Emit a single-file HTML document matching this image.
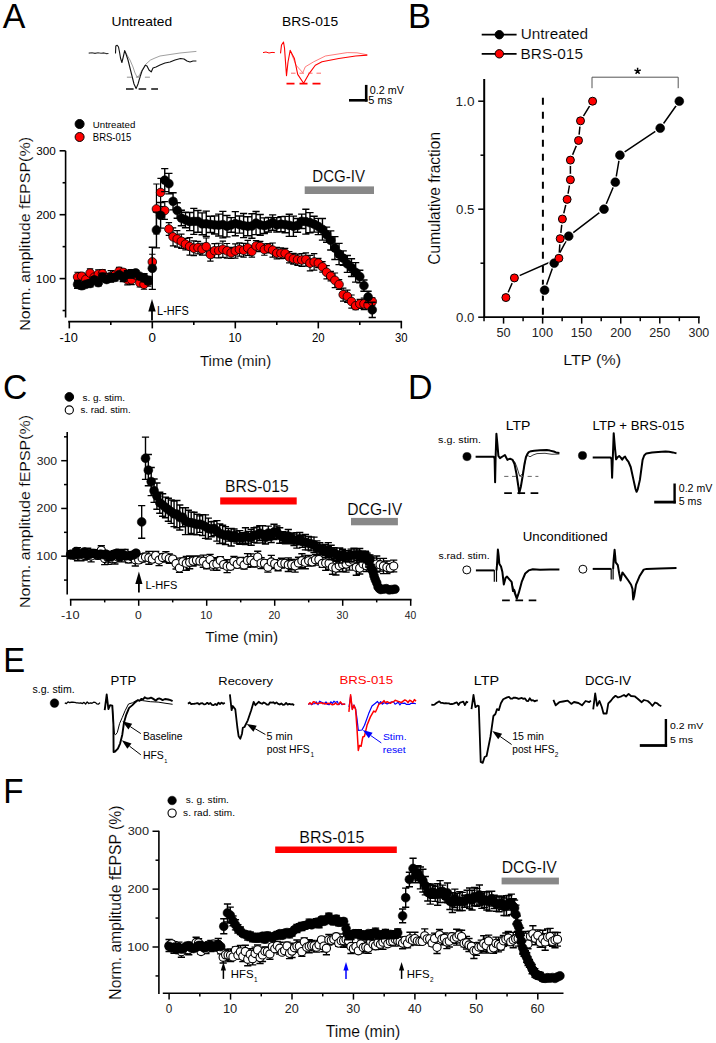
<!DOCTYPE html>
<html><head><meta charset="utf-8"><style>
html,body{margin:0;padding:0;background:#fff;}
svg{display:block;}
text{font-family:"Liberation Sans", sans-serif;}
.th{stroke:#fff; stroke-width:0.12px; paint-order:fill;}
</style></head><body>
<svg width="716" height="1043" viewBox="0 0 716 1043" font-family='"Liberation Sans", sans-serif'>
<rect width="716" height="1043" fill="#fff"/>
<text x="2.73" y="27.80" font-size="35.32" fill="#000" textLength="22.64" lengthAdjust="spacingAndGlyphs">A</text>
<text x="111.44" y="25.70" font-size="13.24" fill="#000" textLength="60.66" lengthAdjust="spacingAndGlyphs">Untreated</text>
<text x="282.06" y="25.70" font-size="13.18" fill="#000" textLength="56.21" lengthAdjust="spacingAndGlyphs">BRS-015</text>
<polyline points="88.70,53.10 92.00,52.80 95.00,53.40 98.00,52.70 101.00,53.20 104.00,52.90 106.00,53.60 108.50,53.50" fill="none" stroke="#333" stroke-width="1.1" stroke-linejoin="round"/>
<polyline points="124.70,50.60 127.00,55.00 130.00,60.00 133.00,67.00 135.00,73.00 137.00,76.90 139.00,76.00 142.00,70.00 146.00,64.00 150.40,60.10 155.00,58.00 160.00,56.00 170.00,54.50 180.00,53.00 190.00,52.00 196.40,51.40" fill="none" stroke="#888" stroke-width="0.8" stroke-linejoin="round"/>
<polyline points="115.50,53.50 115.80,46.00 117.20,45.20 118.50,47.00 119.50,52.00 120.50,58.00 121.90,62.50 123.00,58.00 124.70,50.60 126.00,54.00 128.00,60.00 130.00,68.00 132.00,76.00 134.00,84.00 136.10,88.60 138.00,84.00 140.00,77.00 142.00,71.00 145.30,65.20 147.00,66.00 149.00,70.00 151.20,71.90 153.00,68.00 156.00,67.00 160.00,65.00 165.00,63.00 170.00,62.00 175.00,60.00 180.50,58.50 184.00,59.00 187.00,61.00 190.00,62.00 193.00,61.00 196.40,61.00" fill="none" stroke="#111" stroke-width="1.1" stroke-linejoin="round"/>
<line x1="126.90" y1="77.20" x2="152.90" y2="77.20" stroke="#777" stroke-width="0.8" stroke-linecap="butt" stroke-dasharray="5,4"/>
<line x1="126.00" y1="89.00" x2="158.00" y2="89.00" stroke="#111" stroke-width="1.6" stroke-linecap="butt" stroke-dasharray="7.6,5"/>
<polyline points="263.00,52.60 266.00,52.00 269.00,53.00 272.00,52.40 274.80,52.60" fill="none" stroke="#f00" stroke-width="1.0" stroke-linejoin="round"/>
<polyline points="290.20,50.40 296.00,65.20 302.80,72.70 305.30,66.80 313.70,61.80 325.40,56.00 347.20,52.60 357.00,52.80 367.30,54.80" fill="none" stroke="#f44" stroke-width="0.7" stroke-linejoin="round"/>
<polyline points="280.50,53.40 281.50,45.00 283.50,42.00 284.50,48.00 286.50,75.60 288.00,62.00 290.20,50.40 294.40,58.50 297.70,74.40 303.60,83.30 308.60,74.40 315.30,65.20 322.00,61.80 338.80,58.50 355.60,56.00 367.30,55.10" fill="none" stroke="#f00" stroke-width="1.1" stroke-linejoin="round"/>
<line x1="291.00" y1="73.20" x2="323.70" y2="73.20" stroke="#f44" stroke-width="0.8" stroke-linecap="butt" stroke-dasharray="4.5,4"/>
<line x1="286.50" y1="83.60" x2="320.70" y2="83.60" stroke="#f00" stroke-width="1.6" stroke-linecap="butt" stroke-dasharray="8,5"/>
<line x1="366.20" y1="84.90" x2="366.20" y2="101.60" stroke="#000" stroke-width="2.6" stroke-linecap="butt"/>
<line x1="349.00" y1="100.30" x2="367.50" y2="100.30" stroke="#000" stroke-width="2.6" stroke-linecap="butt"/>
<text x="369.88" y="93.50" font-size="10.17" fill="#000" textLength="34.17" lengthAdjust="spacingAndGlyphs">0.2 mV</text>
<text x="368.36" y="103.50" font-size="10.61" fill="#000" textLength="23.84" lengthAdjust="spacingAndGlyphs">5 ms</text>
<circle cx="79.60" cy="124.00" r="4.5" fill="#000" stroke="#000" stroke-width="1"/>
<circle cx="79.60" cy="137.00" r="4.5" fill="#f00" stroke="#000" stroke-width="1"/>
<text x="92.85" y="127.50" font-size="9.66" fill="#000">Untreated</text>
<text x="92.82" y="140.80" font-size="10.03" fill="#000" textLength="38.58" lengthAdjust="spacingAndGlyphs">BRS-015</text>
<line x1="65.60" y1="150.80" x2="65.60" y2="317.50" stroke="#000" stroke-width="1.6" stroke-linecap="butt"/>
<line x1="59.60" y1="278.60" x2="65.60" y2="278.60" stroke="#000" stroke-width="1.6" stroke-linecap="butt"/>
<line x1="59.60" y1="214.70" x2="65.60" y2="214.70" stroke="#000" stroke-width="1.6" stroke-linecap="butt"/>
<line x1="59.60" y1="150.80" x2="65.60" y2="150.80" stroke="#000" stroke-width="1.6" stroke-linecap="butt"/>
<line x1="62.60" y1="310.55" x2="65.60" y2="310.55" stroke="#000" stroke-width="1.6" stroke-linecap="butt"/>
<line x1="62.60" y1="246.65" x2="65.60" y2="246.65" stroke="#000" stroke-width="1.6" stroke-linecap="butt"/>
<line x1="62.60" y1="182.75" x2="65.60" y2="182.75" stroke="#000" stroke-width="1.6" stroke-linecap="butt"/>
<line x1="68.20" y1="321.60" x2="402.10" y2="321.60" stroke="#000" stroke-width="1.6" stroke-linecap="butt"/>
<line x1="69.30" y1="321.60" x2="69.30" y2="328.40" stroke="#000" stroke-width="1.6" stroke-linecap="butt"/>
<line x1="152.30" y1="321.60" x2="152.30" y2="328.40" stroke="#000" stroke-width="1.6" stroke-linecap="butt"/>
<line x1="235.30" y1="321.60" x2="235.30" y2="328.40" stroke="#000" stroke-width="1.6" stroke-linecap="butt"/>
<line x1="318.30" y1="321.60" x2="318.30" y2="328.40" stroke="#000" stroke-width="1.6" stroke-linecap="butt"/>
<line x1="401.30" y1="321.60" x2="401.30" y2="328.40" stroke="#000" stroke-width="1.6" stroke-linecap="butt"/>
<line x1="110.80" y1="321.60" x2="110.80" y2="325.00" stroke="#000" stroke-width="1.6" stroke-linecap="butt"/>
<line x1="193.80" y1="321.60" x2="193.80" y2="325.00" stroke="#000" stroke-width="1.6" stroke-linecap="butt"/>
<line x1="276.80" y1="321.60" x2="276.80" y2="325.00" stroke="#000" stroke-width="1.6" stroke-linecap="butt"/>
<line x1="359.80" y1="321.60" x2="359.80" y2="325.00" stroke="#000" stroke-width="1.6" stroke-linecap="butt"/>
<text x="36.36" y="154.80" font-size="11.46" fill="#000" textLength="19.51" lengthAdjust="spacingAndGlyphs">300</text>
<text x="36.21" y="218.70" font-size="11.46" fill="#000" textLength="19.65" lengthAdjust="spacingAndGlyphs">200</text>
<text x="35.89" y="282.60" font-size="11.46" fill="#000" textLength="19.98" lengthAdjust="spacingAndGlyphs">100</text>
<text x="59.44" y="341.80" font-size="12.75" fill="#000">-10</text>
<text x="148.58" y="341.80" font-size="12.46" fill="#000" textLength="7.45" lengthAdjust="spacingAndGlyphs">0</text>
<text x="228.56" y="341.80" font-size="12.46" fill="#000" textLength="13.05" lengthAdjust="spacingAndGlyphs">10</text>
<text x="311.88" y="341.80" font-size="12.46" fill="#000" textLength="12.72" lengthAdjust="spacingAndGlyphs">20</text>
<text x="395.02" y="341.80" font-size="12.46" fill="#000" textLength="12.57" lengthAdjust="spacingAndGlyphs">30</text>
<text x="199.97" y="366.10" font-size="15.03" fill="#000" class="th">Time (min)</text>
<text x="0" y="0" font-size="14.48" fill="#000" class="th" textLength="193.80" lengthAdjust="spacingAndGlyphs" transform="translate(30.20,330.81) rotate(-90)">Norm. amplitude fEPSP(%)</text>
<rect x="304.70" y="186.40" width="69.30" height="7.60" fill="#888"/>
<text x="312.37" y="181.90" font-size="16.05" fill="#000" class="th" textLength="52.71" lengthAdjust="spacingAndGlyphs">DCG-IV</text>
<path d="M148.30,311.40 L152.00,299.10 L155.70,311.40 Z" fill="#000"/>
<line x1="152.00" y1="310.40" x2="152.00" y2="320.50" stroke="#000" stroke-width="1.8" stroke-linecap="butt"/>
<text x="157.10" y="314.70" font-size="12.03" fill="#000" textLength="31.60" lengthAdjust="spacingAndGlyphs">L-HFS</text>
<path d="M77.60,272.27V281.66M74.40,272.27H80.80M74.40,281.66H80.80M81.75,273.00V279.40M78.55,273.00H84.95M78.55,279.40H84.95M85.90,274.42V284.24M82.70,274.42H89.10M82.70,284.24H89.10M90.05,268.93V277.28M86.85,268.93H93.25M86.85,277.28H93.25M94.20,272.69V281.62M91.00,272.69H97.40M91.00,281.62H97.40M98.35,269.95V278.44M95.15,269.95H101.55M95.15,278.44H101.55M102.50,269.57V277.72M99.30,269.57H105.70M99.30,277.72H105.70M106.65,273.42V282.64M103.45,273.42H109.85M103.45,282.64H109.85M110.80,270.71V282.20M107.60,270.71H114.00M107.60,282.20H114.00M114.95,271.51V278.37M111.75,271.51H118.15M111.75,278.37H118.15M119.10,267.36V275.30M115.90,267.36H122.30M115.90,275.30H122.30M123.25,269.14V275.63M120.05,269.14H126.45M120.05,275.63H126.45M127.40,274.70V284.92M124.20,274.70H130.60M124.20,284.92H130.60M131.55,274.85V284.64M128.35,274.85H134.75M128.35,284.64H134.75M135.70,271.48V278.89M132.50,271.48H138.90M132.50,278.89H138.90M139.85,278.50V287.00M136.65,278.50H143.05M136.65,287.00H143.05M144.00,279.52V289.24M140.80,279.52H147.20M140.80,289.24H147.20M148.15,276.29V286.10M144.95,276.29H151.35M144.95,286.10H151.35M152.30,254.23V269.57M149.10,254.23H155.50M149.10,269.57H155.50M156.45,184.01V233.86M153.25,184.01H159.65M153.25,233.86H159.65M160.60,178.40V206.52M157.40,178.40H163.80M157.40,206.52H163.80M164.75,201.53V219.42M161.55,201.53H167.95M161.55,219.42H167.95M168.90,222.60V235.38M165.70,222.60H172.10M165.70,235.38H172.10M173.05,227.78V245.89M169.85,227.78H176.25M169.85,245.89H176.25M177.20,230.65V247.22M174.00,230.65H180.40M174.00,247.22H180.40M181.35,234.03V248.42M178.15,234.03H184.55M178.15,248.42H184.55M185.50,238.30V249.94M182.30,238.30H188.70M182.30,249.94H188.70M189.65,237.69V255.14M186.45,237.69H192.85M186.45,255.14H192.85M193.80,240.87V255.55M190.60,240.87H197.00M190.60,255.55H197.00M197.95,241.31V253.90M194.75,241.31H201.15M194.75,253.90H201.15M202.10,243.27V255.15M198.90,243.27H205.30M198.90,255.15H205.30M206.25,238.02V255.25M203.05,238.02H209.45M203.05,255.25H209.45M210.40,248.02V261.11M207.20,248.02H213.60M207.20,261.11H213.60M214.55,243.70V257.76M211.35,243.70H217.75M211.35,257.76H217.75M218.70,243.27V257.84M215.50,243.27H221.90M215.50,257.84H221.90M222.85,241.05V257.37M219.65,241.05H226.05M219.65,257.37H226.05M227.00,243.51V258.13M223.80,243.51H230.20M223.80,258.13H230.20M231.15,247.41V258.34M227.95,247.41H234.35M227.95,258.34H234.35M235.30,243.80V258.07M232.10,243.80H238.50M232.10,258.07H238.50M239.45,242.77V256.18M236.25,242.77H242.65M236.25,256.18H242.65M243.60,243.33V257.17M240.40,243.33H246.80M240.40,257.17H246.80M247.75,240.41V255.44M244.55,240.41H250.95M244.55,255.44H250.95M251.90,245.88V257.22M248.70,245.88H255.10M248.70,257.22H255.10M256.05,240.53V251.36M252.85,240.53H259.25M252.85,251.36H259.25M260.20,241.41V251.61M257.00,241.41H263.40M257.00,251.61H263.40M264.35,243.80V255.27M261.15,243.80H267.55M261.15,255.27H267.55M268.50,243.50V252.84M265.30,243.50H271.70M265.30,252.84H271.70M272.65,242.98V257.20M269.45,242.98H275.85M269.45,257.20H275.85M276.80,247.32V258.86M273.60,247.32H280.00M273.60,258.86H280.00M280.95,247.89V258.55M277.75,247.89H284.15M277.75,258.55H284.15M285.10,248.41V258.31M281.90,248.41H288.30M281.90,258.31H288.30M289.25,251.49V262.84M286.05,251.49H292.45M286.05,262.84H292.45M293.40,253.36V264.14M290.20,253.36H296.60M290.20,264.14H296.60M297.55,254.11V265.41M294.35,254.11H300.75M294.35,265.41H300.75M301.70,253.66V266.37M298.50,253.66H304.90M298.50,266.37H304.90M305.85,252.90V266.17M302.65,252.90H309.05M302.65,266.17H309.05M310.00,255.42V270.93M306.80,255.42H313.20M306.80,270.93H313.20M314.15,253.64V270.22M310.95,253.64H317.35M310.95,270.22H317.35M318.30,258.32V267.64M315.10,258.32H321.50M315.10,267.64H321.50M322.45,261.60V272.15M319.25,261.60H325.65M319.25,272.15H325.65M326.60,265.53V278.95M323.40,265.53H329.80M323.40,278.95H329.80M330.75,271.28V280.96M327.55,271.28H333.95M327.55,280.96H333.95M334.90,273.02V287.59M331.70,273.02H338.10M331.70,287.59H338.10M339.05,279.60V289.33M335.85,279.60H342.25M335.85,289.33H342.25M343.20,288.05V301.22M340.00,288.05H346.40M340.00,301.22H346.40M347.35,290.14V302.46M344.15,290.14H350.55M344.15,302.46H350.55M351.50,294.99V308.06M348.30,294.99H354.70M348.30,308.06H354.70M355.65,301.79V309.60M352.45,301.79H358.85M352.45,309.60H358.85M359.80,299.37V308.29M356.60,299.37H363.00M356.60,308.29H363.00M363.95,297.98V309.70M360.75,297.98H367.15M360.75,309.70H367.15M368.10,301.14V308.84M364.90,301.14H371.30M364.90,308.84H371.30M372.25,297.86V305.21M369.05,297.86H375.45M369.05,305.21H375.45" stroke="#000" stroke-width="1.2" fill="none"/>
<circle cx="77.60" cy="276.97" r="4.3" fill="#f00" stroke="#000" stroke-width="0.8"/>
<circle cx="81.75" cy="276.20" r="4.3" fill="#f00" stroke="#000" stroke-width="0.8"/>
<circle cx="85.90" cy="279.33" r="4.3" fill="#f00" stroke="#000" stroke-width="0.8"/>
<circle cx="90.05" cy="273.10" r="4.3" fill="#f00" stroke="#000" stroke-width="0.8"/>
<circle cx="94.20" cy="277.15" r="4.3" fill="#f00" stroke="#000" stroke-width="0.8"/>
<circle cx="98.35" cy="274.19" r="4.3" fill="#f00" stroke="#000" stroke-width="0.8"/>
<circle cx="102.50" cy="273.64" r="4.3" fill="#f00" stroke="#000" stroke-width="0.8"/>
<circle cx="106.65" cy="278.03" r="4.3" fill="#f00" stroke="#000" stroke-width="0.8"/>
<circle cx="110.80" cy="276.46" r="4.3" fill="#f00" stroke="#000" stroke-width="0.8"/>
<circle cx="114.95" cy="274.94" r="4.3" fill="#f00" stroke="#000" stroke-width="0.8"/>
<circle cx="119.10" cy="271.33" r="4.3" fill="#f00" stroke="#000" stroke-width="0.8"/>
<circle cx="123.25" cy="272.38" r="4.3" fill="#f00" stroke="#000" stroke-width="0.8"/>
<circle cx="127.40" cy="279.81" r="4.3" fill="#f00" stroke="#000" stroke-width="0.8"/>
<circle cx="131.55" cy="279.75" r="4.3" fill="#f00" stroke="#000" stroke-width="0.8"/>
<circle cx="135.70" cy="275.18" r="4.3" fill="#f00" stroke="#000" stroke-width="0.8"/>
<circle cx="139.85" cy="282.75" r="4.3" fill="#f00" stroke="#000" stroke-width="0.8"/>
<circle cx="144.00" cy="284.38" r="4.3" fill="#f00" stroke="#000" stroke-width="0.8"/>
<circle cx="148.15" cy="281.20" r="4.3" fill="#f00" stroke="#000" stroke-width="0.8"/>
<circle cx="152.30" cy="261.90" r="4.3" fill="#f00" stroke="#000" stroke-width="0.8"/>
<circle cx="156.45" cy="208.93" r="4.3" fill="#f00" stroke="#000" stroke-width="0.8"/>
<circle cx="160.60" cy="192.46" r="4.3" fill="#f00" stroke="#000" stroke-width="0.8"/>
<circle cx="164.75" cy="210.48" r="4.3" fill="#f00" stroke="#000" stroke-width="0.8"/>
<circle cx="168.90" cy="228.99" r="4.3" fill="#f00" stroke="#000" stroke-width="0.8"/>
<circle cx="173.05" cy="236.83" r="4.3" fill="#f00" stroke="#000" stroke-width="0.8"/>
<circle cx="177.20" cy="238.93" r="4.3" fill="#f00" stroke="#000" stroke-width="0.8"/>
<circle cx="181.35" cy="241.23" r="4.3" fill="#f00" stroke="#000" stroke-width="0.8"/>
<circle cx="185.50" cy="244.12" r="4.3" fill="#f00" stroke="#000" stroke-width="0.8"/>
<circle cx="189.65" cy="246.42" r="4.3" fill="#f00" stroke="#000" stroke-width="0.8"/>
<circle cx="193.80" cy="248.21" r="4.3" fill="#f00" stroke="#000" stroke-width="0.8"/>
<circle cx="197.95" cy="247.61" r="4.3" fill="#f00" stroke="#000" stroke-width="0.8"/>
<circle cx="202.10" cy="249.21" r="4.3" fill="#f00" stroke="#000" stroke-width="0.8"/>
<circle cx="206.25" cy="246.64" r="4.3" fill="#f00" stroke="#000" stroke-width="0.8"/>
<circle cx="210.40" cy="254.56" r="4.3" fill="#f00" stroke="#000" stroke-width="0.8"/>
<circle cx="214.55" cy="250.73" r="4.3" fill="#f00" stroke="#000" stroke-width="0.8"/>
<circle cx="218.70" cy="250.55" r="4.3" fill="#f00" stroke="#000" stroke-width="0.8"/>
<circle cx="222.85" cy="249.21" r="4.3" fill="#f00" stroke="#000" stroke-width="0.8"/>
<circle cx="227.00" cy="250.82" r="4.3" fill="#f00" stroke="#000" stroke-width="0.8"/>
<circle cx="231.15" cy="252.87" r="4.3" fill="#f00" stroke="#000" stroke-width="0.8"/>
<circle cx="235.30" cy="250.93" r="4.3" fill="#f00" stroke="#000" stroke-width="0.8"/>
<circle cx="239.45" cy="249.48" r="4.3" fill="#f00" stroke="#000" stroke-width="0.8"/>
<circle cx="243.60" cy="250.25" r="4.3" fill="#f00" stroke="#000" stroke-width="0.8"/>
<circle cx="247.75" cy="247.93" r="4.3" fill="#f00" stroke="#000" stroke-width="0.8"/>
<circle cx="251.90" cy="251.55" r="4.3" fill="#f00" stroke="#000" stroke-width="0.8"/>
<circle cx="256.05" cy="245.95" r="4.3" fill="#f00" stroke="#000" stroke-width="0.8"/>
<circle cx="260.20" cy="246.51" r="4.3" fill="#f00" stroke="#000" stroke-width="0.8"/>
<circle cx="264.35" cy="249.54" r="4.3" fill="#f00" stroke="#000" stroke-width="0.8"/>
<circle cx="268.50" cy="248.17" r="4.3" fill="#f00" stroke="#000" stroke-width="0.8"/>
<circle cx="272.65" cy="250.09" r="4.3" fill="#f00" stroke="#000" stroke-width="0.8"/>
<circle cx="276.80" cy="253.09" r="4.3" fill="#f00" stroke="#000" stroke-width="0.8"/>
<circle cx="280.95" cy="253.22" r="4.3" fill="#f00" stroke="#000" stroke-width="0.8"/>
<circle cx="285.10" cy="253.36" r="4.3" fill="#f00" stroke="#000" stroke-width="0.8"/>
<circle cx="289.25" cy="257.16" r="4.3" fill="#f00" stroke="#000" stroke-width="0.8"/>
<circle cx="293.40" cy="258.75" r="4.3" fill="#f00" stroke="#000" stroke-width="0.8"/>
<circle cx="297.55" cy="259.76" r="4.3" fill="#f00" stroke="#000" stroke-width="0.8"/>
<circle cx="301.70" cy="260.02" r="4.3" fill="#f00" stroke="#000" stroke-width="0.8"/>
<circle cx="305.85" cy="259.54" r="4.3" fill="#f00" stroke="#000" stroke-width="0.8"/>
<circle cx="310.00" cy="263.17" r="4.3" fill="#f00" stroke="#000" stroke-width="0.8"/>
<circle cx="314.15" cy="261.93" r="4.3" fill="#f00" stroke="#000" stroke-width="0.8"/>
<circle cx="318.30" cy="262.98" r="4.3" fill="#f00" stroke="#000" stroke-width="0.8"/>
<circle cx="322.45" cy="266.87" r="4.3" fill="#f00" stroke="#000" stroke-width="0.8"/>
<circle cx="326.60" cy="272.24" r="4.3" fill="#f00" stroke="#000" stroke-width="0.8"/>
<circle cx="330.75" cy="276.12" r="4.3" fill="#f00" stroke="#000" stroke-width="0.8"/>
<circle cx="334.90" cy="280.31" r="4.3" fill="#f00" stroke="#000" stroke-width="0.8"/>
<circle cx="339.05" cy="284.47" r="4.3" fill="#f00" stroke="#000" stroke-width="0.8"/>
<circle cx="343.20" cy="294.64" r="4.3" fill="#f00" stroke="#000" stroke-width="0.8"/>
<circle cx="347.35" cy="296.30" r="4.3" fill="#f00" stroke="#000" stroke-width="0.8"/>
<circle cx="351.50" cy="301.52" r="4.3" fill="#f00" stroke="#000" stroke-width="0.8"/>
<circle cx="355.65" cy="305.69" r="4.3" fill="#f00" stroke="#000" stroke-width="0.8"/>
<circle cx="359.80" cy="303.83" r="4.3" fill="#f00" stroke="#000" stroke-width="0.8"/>
<circle cx="363.95" cy="303.84" r="4.3" fill="#f00" stroke="#000" stroke-width="0.8"/>
<circle cx="368.10" cy="304.99" r="4.3" fill="#f00" stroke="#000" stroke-width="0.8"/>
<circle cx="372.25" cy="301.54" r="4.3" fill="#f00" stroke="#000" stroke-width="0.8"/>
<path d="M77.60,280.43V288.37M74.00,280.43H81.20M74.00,288.37H81.20M81.75,282.36V289.03M78.15,282.36H85.35M78.15,289.03H85.35M85.90,282.08V286.56M82.30,282.08H89.50M82.30,286.56H89.50M90.05,280.06V286.90M86.45,280.06H93.65M86.45,286.90H93.65M94.20,276.91V282.64M90.60,276.91H97.80M90.60,282.64H97.80M98.35,279.41V285.90M94.75,279.41H101.95M94.75,285.90H101.95M102.50,273.30V281.17M98.90,273.30H106.10M98.90,281.17H106.10M106.65,276.55V282.40M103.05,276.55H110.25M103.05,282.40H110.25M110.80,273.62V281.57M107.20,273.62H114.40M107.20,281.57H114.40M114.95,273.99V280.85M111.35,273.99H118.55M111.35,280.85H118.55M119.10,272.35V276.88M115.50,272.35H122.70M115.50,276.88H122.70M123.25,273.42V281.46M119.65,273.42H126.85M119.65,281.46H126.85M127.40,270.65V277.77M123.80,270.65H131.00M123.80,277.77H131.00M131.55,269.72V278.01M127.95,269.72H135.15M127.95,278.01H135.15M135.70,270.35V275.49M132.10,270.35H139.30M132.10,275.49H139.30M139.85,273.79V278.79M136.25,273.79H143.45M136.25,278.79H143.45M144.00,273.71V281.76M140.40,273.71H147.60M140.40,281.76H147.60M148.15,276.83V283.98M144.55,276.83H151.75M144.55,283.98H151.75M152.30,247.24V289.41M148.70,247.24H155.90M148.70,289.41H155.90M156.45,212.11V247.90M152.85,212.11H160.05M152.85,247.90H160.05M160.60,202.55V228.11M157.00,202.55H164.20M157.00,228.11H164.20M164.75,168.65V191.66M161.15,168.65H168.35M161.15,191.66H168.35M168.90,173.41V193.85M165.30,173.41H172.50M165.30,193.85H172.50M173.05,192.76V209.92M169.45,192.76H176.65M169.45,209.92H176.65M177.20,202.74V218.20M173.60,202.74H180.80M173.60,218.20H180.80M181.35,210.30V225.78M177.75,210.30H184.95M177.75,225.78H184.95M185.50,212.23V227.68M181.90,212.23H189.10M181.90,227.68H189.10M189.65,212.43V230.62M186.05,212.43H193.25M186.05,230.62H193.25M193.80,208.41V234.39M190.20,208.41H197.40M190.20,234.39H197.40M197.95,210.56V232.32M194.35,210.56H201.55M194.35,232.32H201.55M202.10,212.88V234.73M198.50,212.88H205.70M198.50,234.73H205.70M206.25,211.08V236.49M202.65,211.08H209.85M202.65,236.49H209.85M210.40,216.31V232.57M206.80,216.31H214.00M206.80,232.57H214.00M214.55,215.87V234.01M210.95,215.87H218.15M210.95,234.01H218.15M218.70,214.12V236.00M215.10,214.12H222.30M215.10,236.00H222.30M222.85,211.34V237.90M219.25,211.34H226.45M219.25,237.90H226.45M227.00,215.52V236.90M223.40,215.52H230.60M223.40,236.90H230.60M231.15,217.67V232.28M227.55,217.67H234.75M227.55,232.28H234.75M235.30,211.59V235.72M231.70,211.59H238.90M231.70,235.72H238.90M239.45,216.04V233.16M235.85,216.04H243.05M235.85,233.16H243.05M243.60,213.54V237.60M240.00,213.54H247.20M240.00,237.60H247.20M247.75,216.82V235.71M244.15,216.82H251.35M244.15,235.71H251.35M251.90,213.70V238.29M248.30,213.70H255.50M248.30,238.29H255.50M256.05,211.53V234.64M252.45,211.53H259.65M252.45,234.64H259.65M260.20,214.49V235.24M256.60,214.49H263.80M256.60,235.24H263.80M264.35,217.84V233.48M260.75,217.84H267.95M260.75,233.48H267.95M268.50,217.37V232.04M264.90,217.37H272.10M264.90,232.04H272.10M272.65,214.83V230.19M269.05,214.83H276.25M269.05,230.19H276.25M276.80,217.59V231.98M273.20,217.59H280.40M273.20,231.98H280.40M280.95,216.67V231.76M277.35,216.67H284.55M277.35,231.76H284.55M285.10,216.36V232.80M281.50,216.36H288.70M281.50,232.80H288.70M289.25,214.27V236.39M285.65,214.27H292.85M285.65,236.39H292.85M293.40,216.11V236.37M289.80,216.11H297.00M289.80,236.37H297.00M297.55,218.43V232.22M293.95,218.43H301.15M293.95,232.22H301.15M301.70,214.11V228.55M298.10,214.11H305.30M298.10,228.55H305.30M305.85,209.30V234.09M302.25,209.30H309.45M302.25,234.09H309.45M310.00,212.64V232.72M306.40,212.64H313.60M306.40,232.72H313.60M314.15,216.27V232.08M310.55,216.27H317.75M310.55,232.08H317.75M318.30,218.35V234.67M314.70,218.35H321.90M314.70,234.67H321.90M322.45,218.53V240.14M318.85,218.53H326.05M318.85,240.14H326.05M326.60,227.17V242.31M323.00,227.17H330.20M323.00,242.31H330.20M330.75,230.87V249.97M327.15,230.87H334.35M327.15,249.97H334.35M334.90,236.60V259.54M331.30,236.60H338.50M331.30,259.54H338.50M339.05,243.41V264.64M335.45,243.41H342.65M335.45,264.64H342.65M343.20,250.86V265.42M339.60,250.86H346.80M339.60,265.42H346.80M347.35,255.46V272.33M343.75,255.46H350.95M343.75,272.33H350.95M351.50,258.76V276.57M347.90,258.76H355.10M347.90,276.57H355.10M355.65,262.62V282.13M352.05,262.62H359.25M352.05,282.13H359.25M359.80,270.21V282.89M356.20,270.21H363.40M356.20,282.89H363.40M363.95,280.04V291.18M360.35,280.04H367.55M360.35,291.18H367.55M368.10,291.19V302.56M364.50,291.19H371.70M364.50,302.56H371.70M372.25,302.25V317.46M368.65,302.25H375.85M368.65,317.46H375.85" stroke="#000" stroke-width="1.4" fill="none"/>
<circle cx="77.60" cy="284.40" r="4.4" fill="#000" stroke="#000" stroke-width="0.6"/>
<circle cx="81.75" cy="285.69" r="4.4" fill="#000" stroke="#000" stroke-width="0.6"/>
<circle cx="85.90" cy="284.32" r="4.4" fill="#000" stroke="#000" stroke-width="0.6"/>
<circle cx="90.05" cy="283.48" r="4.4" fill="#000" stroke="#000" stroke-width="0.6"/>
<circle cx="94.20" cy="279.78" r="4.4" fill="#000" stroke="#000" stroke-width="0.6"/>
<circle cx="98.35" cy="282.65" r="4.4" fill="#000" stroke="#000" stroke-width="0.6"/>
<circle cx="102.50" cy="277.23" r="4.4" fill="#000" stroke="#000" stroke-width="0.6"/>
<circle cx="106.65" cy="279.48" r="4.4" fill="#000" stroke="#000" stroke-width="0.6"/>
<circle cx="110.80" cy="277.59" r="4.4" fill="#000" stroke="#000" stroke-width="0.6"/>
<circle cx="114.95" cy="277.42" r="4.4" fill="#000" stroke="#000" stroke-width="0.6"/>
<circle cx="119.10" cy="274.62" r="4.4" fill="#000" stroke="#000" stroke-width="0.6"/>
<circle cx="123.25" cy="277.44" r="4.4" fill="#000" stroke="#000" stroke-width="0.6"/>
<circle cx="127.40" cy="274.21" r="4.4" fill="#000" stroke="#000" stroke-width="0.6"/>
<circle cx="131.55" cy="273.87" r="4.4" fill="#000" stroke="#000" stroke-width="0.6"/>
<circle cx="135.70" cy="272.92" r="4.4" fill="#000" stroke="#000" stroke-width="0.6"/>
<circle cx="139.85" cy="276.29" r="4.4" fill="#000" stroke="#000" stroke-width="0.6"/>
<circle cx="144.00" cy="277.73" r="4.4" fill="#000" stroke="#000" stroke-width="0.6"/>
<circle cx="148.15" cy="280.40" r="4.4" fill="#000" stroke="#000" stroke-width="0.6"/>
<circle cx="152.30" cy="268.33" r="4.4" fill="#000" stroke="#000" stroke-width="0.6"/>
<circle cx="156.45" cy="230.00" r="4.4" fill="#000" stroke="#000" stroke-width="0.6"/>
<circle cx="160.60" cy="215.33" r="4.4" fill="#000" stroke="#000" stroke-width="0.6"/>
<circle cx="164.75" cy="180.16" r="4.4" fill="#000" stroke="#000" stroke-width="0.6"/>
<circle cx="168.90" cy="183.63" r="4.4" fill="#000" stroke="#000" stroke-width="0.6"/>
<circle cx="173.05" cy="201.34" r="4.4" fill="#000" stroke="#000" stroke-width="0.6"/>
<circle cx="177.20" cy="210.47" r="4.4" fill="#000" stroke="#000" stroke-width="0.6"/>
<circle cx="181.35" cy="218.04" r="4.4" fill="#000" stroke="#000" stroke-width="0.6"/>
<circle cx="185.50" cy="219.95" r="4.4" fill="#000" stroke="#000" stroke-width="0.6"/>
<circle cx="189.65" cy="221.53" r="4.4" fill="#000" stroke="#000" stroke-width="0.6"/>
<circle cx="193.80" cy="221.40" r="4.4" fill="#000" stroke="#000" stroke-width="0.6"/>
<circle cx="197.95" cy="221.44" r="4.4" fill="#000" stroke="#000" stroke-width="0.6"/>
<circle cx="202.10" cy="223.80" r="4.4" fill="#000" stroke="#000" stroke-width="0.6"/>
<circle cx="206.25" cy="223.78" r="4.4" fill="#000" stroke="#000" stroke-width="0.6"/>
<circle cx="210.40" cy="224.44" r="4.4" fill="#000" stroke="#000" stroke-width="0.6"/>
<circle cx="214.55" cy="224.94" r="4.4" fill="#000" stroke="#000" stroke-width="0.6"/>
<circle cx="218.70" cy="225.06" r="4.4" fill="#000" stroke="#000" stroke-width="0.6"/>
<circle cx="222.85" cy="224.62" r="4.4" fill="#000" stroke="#000" stroke-width="0.6"/>
<circle cx="227.00" cy="226.21" r="4.4" fill="#000" stroke="#000" stroke-width="0.6"/>
<circle cx="231.15" cy="224.97" r="4.4" fill="#000" stroke="#000" stroke-width="0.6"/>
<circle cx="235.30" cy="223.65" r="4.4" fill="#000" stroke="#000" stroke-width="0.6"/>
<circle cx="239.45" cy="224.60" r="4.4" fill="#000" stroke="#000" stroke-width="0.6"/>
<circle cx="243.60" cy="225.57" r="4.4" fill="#000" stroke="#000" stroke-width="0.6"/>
<circle cx="247.75" cy="226.26" r="4.4" fill="#000" stroke="#000" stroke-width="0.6"/>
<circle cx="251.90" cy="226.00" r="4.4" fill="#000" stroke="#000" stroke-width="0.6"/>
<circle cx="256.05" cy="223.08" r="4.4" fill="#000" stroke="#000" stroke-width="0.6"/>
<circle cx="260.20" cy="224.87" r="4.4" fill="#000" stroke="#000" stroke-width="0.6"/>
<circle cx="264.35" cy="225.66" r="4.4" fill="#000" stroke="#000" stroke-width="0.6"/>
<circle cx="268.50" cy="224.70" r="4.4" fill="#000" stroke="#000" stroke-width="0.6"/>
<circle cx="272.65" cy="222.51" r="4.4" fill="#000" stroke="#000" stroke-width="0.6"/>
<circle cx="276.80" cy="224.79" r="4.4" fill="#000" stroke="#000" stroke-width="0.6"/>
<circle cx="280.95" cy="224.21" r="4.4" fill="#000" stroke="#000" stroke-width="0.6"/>
<circle cx="285.10" cy="224.58" r="4.4" fill="#000" stroke="#000" stroke-width="0.6"/>
<circle cx="289.25" cy="225.33" r="4.4" fill="#000" stroke="#000" stroke-width="0.6"/>
<circle cx="293.40" cy="226.24" r="4.4" fill="#000" stroke="#000" stroke-width="0.6"/>
<circle cx="297.55" cy="225.33" r="4.4" fill="#000" stroke="#000" stroke-width="0.6"/>
<circle cx="301.70" cy="221.33" r="4.4" fill="#000" stroke="#000" stroke-width="0.6"/>
<circle cx="305.85" cy="221.69" r="4.4" fill="#000" stroke="#000" stroke-width="0.6"/>
<circle cx="310.00" cy="222.68" r="4.4" fill="#000" stroke="#000" stroke-width="0.6"/>
<circle cx="314.15" cy="224.17" r="4.4" fill="#000" stroke="#000" stroke-width="0.6"/>
<circle cx="318.30" cy="226.51" r="4.4" fill="#000" stroke="#000" stroke-width="0.6"/>
<circle cx="322.45" cy="229.34" r="4.4" fill="#000" stroke="#000" stroke-width="0.6"/>
<circle cx="326.60" cy="234.74" r="4.4" fill="#000" stroke="#000" stroke-width="0.6"/>
<circle cx="330.75" cy="240.42" r="4.4" fill="#000" stroke="#000" stroke-width="0.6"/>
<circle cx="334.90" cy="248.07" r="4.4" fill="#000" stroke="#000" stroke-width="0.6"/>
<circle cx="339.05" cy="254.02" r="4.4" fill="#000" stroke="#000" stroke-width="0.6"/>
<circle cx="343.20" cy="258.14" r="4.4" fill="#000" stroke="#000" stroke-width="0.6"/>
<circle cx="347.35" cy="263.89" r="4.4" fill="#000" stroke="#000" stroke-width="0.6"/>
<circle cx="351.50" cy="267.66" r="4.4" fill="#000" stroke="#000" stroke-width="0.6"/>
<circle cx="355.65" cy="272.38" r="4.4" fill="#000" stroke="#000" stroke-width="0.6"/>
<circle cx="359.80" cy="276.55" r="4.4" fill="#000" stroke="#000" stroke-width="0.6"/>
<circle cx="363.95" cy="285.61" r="4.4" fill="#000" stroke="#000" stroke-width="0.6"/>
<circle cx="368.10" cy="296.88" r="4.4" fill="#000" stroke="#000" stroke-width="0.6"/>
<circle cx="372.25" cy="309.85" r="4.4" fill="#000" stroke="#000" stroke-width="0.6"/>
<text x="408.08" y="27.80" font-size="35.47" fill="#000" textLength="22.94" lengthAdjust="spacingAndGlyphs">B</text>
<line x1="481.70" y1="34.70" x2="516.60" y2="34.70" stroke="#000" stroke-width="1.8" stroke-linecap="butt"/>
<circle cx="499.30" cy="34.70" r="4.2" fill="#000" stroke="#000" stroke-width="1"/>
<text x="520.72" y="39.20" font-size="14.48" fill="#000" class="th" textLength="67.27" lengthAdjust="spacingAndGlyphs">Untreated</text>
<line x1="481.70" y1="53.80" x2="516.60" y2="53.80" stroke="#000" stroke-width="1.8" stroke-linecap="butt"/>
<circle cx="499.30" cy="53.80" r="4.2" fill="#f00" stroke="#000" stroke-width="1"/>
<text x="520.64" y="58.50" font-size="14.33" fill="#000" class="th" textLength="62.30" lengthAdjust="spacingAndGlyphs">BRS-015</text>
<line x1="484.20" y1="79.00" x2="484.20" y2="318.00" stroke="#000" stroke-width="2.0" stroke-linecap="butt"/>
<line x1="483.40" y1="317.20" x2="699.80" y2="317.20" stroke="#000" stroke-width="1.8" stroke-linecap="butt"/>
<line x1="478.20" y1="317.20" x2="484.20" y2="317.20" stroke="#000" stroke-width="1.5" stroke-linecap="butt"/>
<line x1="478.20" y1="209.20" x2="484.20" y2="209.20" stroke="#000" stroke-width="1.5" stroke-linecap="butt"/>
<line x1="478.20" y1="101.20" x2="484.20" y2="101.20" stroke="#000" stroke-width="1.5" stroke-linecap="butt"/>
<line x1="480.50" y1="263.20" x2="484.20" y2="263.20" stroke="#000" stroke-width="1.5" stroke-linecap="butt"/>
<line x1="480.50" y1="155.20" x2="484.20" y2="155.20" stroke="#000" stroke-width="1.5" stroke-linecap="butt"/>
<line x1="503.56" y1="317.20" x2="503.56" y2="323.60" stroke="#000" stroke-width="1.5" stroke-linecap="butt"/>
<line x1="542.62" y1="317.20" x2="542.62" y2="323.60" stroke="#000" stroke-width="1.5" stroke-linecap="butt"/>
<line x1="581.68" y1="317.20" x2="581.68" y2="323.60" stroke="#000" stroke-width="1.5" stroke-linecap="butt"/>
<line x1="620.74" y1="317.20" x2="620.74" y2="323.60" stroke="#000" stroke-width="1.5" stroke-linecap="butt"/>
<line x1="659.80" y1="317.20" x2="659.80" y2="323.60" stroke="#000" stroke-width="1.5" stroke-linecap="butt"/>
<line x1="698.86" y1="317.20" x2="698.86" y2="323.60" stroke="#000" stroke-width="1.5" stroke-linecap="butt"/>
<line x1="484.03" y1="317.20" x2="484.03" y2="321.20" stroke="#000" stroke-width="1.5" stroke-linecap="butt"/>
<line x1="523.09" y1="317.20" x2="523.09" y2="321.20" stroke="#000" stroke-width="1.5" stroke-linecap="butt"/>
<line x1="562.15" y1="317.20" x2="562.15" y2="321.20" stroke="#000" stroke-width="1.5" stroke-linecap="butt"/>
<line x1="601.21" y1="317.20" x2="601.21" y2="321.20" stroke="#000" stroke-width="1.5" stroke-linecap="butt"/>
<line x1="640.27" y1="317.20" x2="640.27" y2="321.20" stroke="#000" stroke-width="1.5" stroke-linecap="butt"/>
<line x1="679.33" y1="317.20" x2="679.33" y2="321.20" stroke="#000" stroke-width="1.5" stroke-linecap="butt"/>
<text x="456.09" y="321.50" font-size="12.61" fill="#222" textLength="18.33" lengthAdjust="spacingAndGlyphs">0.0</text>
<text x="456.08" y="213.50" font-size="12.61" fill="#222" textLength="18.37" lengthAdjust="spacingAndGlyphs">0.5</text>
<text x="455.57" y="105.50" font-size="12.61" fill="#222" textLength="18.86" lengthAdjust="spacingAndGlyphs">1.0</text>
<text x="496.50" y="336.90" font-size="12.18" fill="#222" textLength="14.11" lengthAdjust="spacingAndGlyphs">50</text>
<text x="531.75" y="336.90" font-size="12.18" fill="#222" textLength="21.27" lengthAdjust="spacingAndGlyphs">100</text>
<text x="570.81" y="336.90" font-size="12.18" fill="#222" textLength="21.27" lengthAdjust="spacingAndGlyphs">150</text>
<text x="610.21" y="336.90" font-size="12.18" fill="#222" textLength="20.92" lengthAdjust="spacingAndGlyphs">200</text>
<text x="649.27" y="336.90" font-size="12.18" fill="#222" textLength="20.92" lengthAdjust="spacingAndGlyphs">250</text>
<text x="688.49" y="336.90" font-size="12.18" fill="#222" textLength="20.76" lengthAdjust="spacingAndGlyphs">300</text>
<text x="563.17" y="364.60" font-size="15.45" fill="#000" class="th" textLength="57.93" lengthAdjust="spacingAndGlyphs">LTP (%)</text>
<text x="0" y="0" font-size="15.72" fill="#000" class="th" textLength="132.70" lengthAdjust="spacingAndGlyphs" transform="translate(439.60,264.69) rotate(-90)">Cumulative fraction</text>
<line x1="542.90" y1="97.80" x2="542.90" y2="317.00" stroke="#000" stroke-width="2.0" stroke-linecap="butt" stroke-dasharray="7,7"/>
<polyline points="592.00,88.20 592.00,77.20 678.20,77.20 678.20,88.20" fill="none" stroke="#555" stroke-width="1.0" stroke-linejoin="miter"/>
<path d="M637.60,71.10L637.60,67.80M637.60,71.10L640.74,70.08M637.60,71.10L639.54,73.77M637.60,71.10L635.66,73.77M637.60,71.10L634.46,70.08" stroke="#000" stroke-width="1.5" stroke-linecap="butt" fill="none"/>
<polyline points="544.60,290.20 554.20,263.20 568.70,236.20 604.00,209.20 615.30,182.20 619.90,155.20 660.20,128.20 679.30,101.20" fill="none" stroke="#000" stroke-width="1.5" stroke-linejoin="round"/>
<polyline points="505.90,297.56 514.40,277.93 558.90,258.29 560.20,238.65 562.40,219.02 567.10,199.38 570.40,179.75 570.40,160.11 578.50,140.47 580.50,120.84 592.60,101.20" fill="none" stroke="#000" stroke-width="1.5" stroke-linejoin="round"/>
<circle cx="544.60" cy="290.20" r="5.9" fill="#fff" stroke="none" stroke-width="0"/>
<circle cx="554.20" cy="263.20" r="5.9" fill="#fff" stroke="none" stroke-width="0"/>
<circle cx="568.70" cy="236.20" r="5.9" fill="#fff" stroke="none" stroke-width="0"/>
<circle cx="604.00" cy="209.20" r="5.9" fill="#fff" stroke="none" stroke-width="0"/>
<circle cx="615.30" cy="182.20" r="5.9" fill="#fff" stroke="none" stroke-width="0"/>
<circle cx="619.90" cy="155.20" r="5.9" fill="#fff" stroke="none" stroke-width="0"/>
<circle cx="660.20" cy="128.20" r="5.9" fill="#fff" stroke="none" stroke-width="0"/>
<circle cx="679.30" cy="101.20" r="5.9" fill="#fff" stroke="none" stroke-width="0"/>
<circle cx="505.90" cy="297.56" r="5.9" fill="#fff" stroke="none" stroke-width="0"/>
<circle cx="514.40" cy="277.93" r="5.9" fill="#fff" stroke="none" stroke-width="0"/>
<circle cx="558.90" cy="258.29" r="5.9" fill="#fff" stroke="none" stroke-width="0"/>
<circle cx="560.20" cy="238.65" r="5.9" fill="#fff" stroke="none" stroke-width="0"/>
<circle cx="562.40" cy="219.02" r="5.9" fill="#fff" stroke="none" stroke-width="0"/>
<circle cx="567.10" cy="199.38" r="5.9" fill="#fff" stroke="none" stroke-width="0"/>
<circle cx="570.40" cy="179.75" r="5.9" fill="#fff" stroke="none" stroke-width="0"/>
<circle cx="570.40" cy="160.11" r="5.9" fill="#fff" stroke="none" stroke-width="0"/>
<circle cx="578.50" cy="140.47" r="5.9" fill="#fff" stroke="none" stroke-width="0"/>
<circle cx="580.50" cy="120.84" r="5.9" fill="#fff" stroke="none" stroke-width="0"/>
<circle cx="592.60" cy="101.20" r="5.9" fill="#fff" stroke="none" stroke-width="0"/>
<circle cx="544.60" cy="290.20" r="4.4" fill="#000" stroke="#000" stroke-width="0.6"/>
<circle cx="554.20" cy="263.20" r="4.4" fill="#000" stroke="#000" stroke-width="0.6"/>
<circle cx="568.70" cy="236.20" r="4.4" fill="#000" stroke="#000" stroke-width="0.6"/>
<circle cx="604.00" cy="209.20" r="4.4" fill="#000" stroke="#000" stroke-width="0.6"/>
<circle cx="615.30" cy="182.20" r="4.4" fill="#000" stroke="#000" stroke-width="0.6"/>
<circle cx="619.90" cy="155.20" r="4.4" fill="#000" stroke="#000" stroke-width="0.6"/>
<circle cx="660.20" cy="128.20" r="4.4" fill="#000" stroke="#000" stroke-width="0.6"/>
<circle cx="679.30" cy="101.20" r="4.4" fill="#000" stroke="#000" stroke-width="0.6"/>
<circle cx="505.90" cy="297.56" r="4.0" fill="#f00" stroke="#000" stroke-width="1.0"/>
<circle cx="514.40" cy="277.93" r="4.0" fill="#f00" stroke="#000" stroke-width="1.0"/>
<circle cx="558.90" cy="258.29" r="4.0" fill="#f00" stroke="#000" stroke-width="1.0"/>
<circle cx="560.20" cy="238.65" r="4.0" fill="#f00" stroke="#000" stroke-width="1.0"/>
<circle cx="562.40" cy="219.02" r="4.0" fill="#f00" stroke="#000" stroke-width="1.0"/>
<circle cx="567.10" cy="199.38" r="4.0" fill="#f00" stroke="#000" stroke-width="1.0"/>
<circle cx="570.40" cy="179.75" r="4.0" fill="#f00" stroke="#000" stroke-width="1.0"/>
<circle cx="570.40" cy="160.11" r="4.0" fill="#f00" stroke="#000" stroke-width="1.0"/>
<circle cx="578.50" cy="140.47" r="4.0" fill="#f00" stroke="#000" stroke-width="1.0"/>
<circle cx="580.50" cy="120.84" r="4.0" fill="#f00" stroke="#000" stroke-width="1.0"/>
<circle cx="592.60" cy="101.20" r="4.0" fill="#f00" stroke="#000" stroke-width="1.0"/>
<text x="2.98" y="398.50" font-size="35.53" fill="#000" textLength="24.30" lengthAdjust="spacingAndGlyphs">C</text>
<circle cx="69.30" cy="396.90" r="4.3" fill="#000" stroke="#000" stroke-width="1"/>
<circle cx="69.30" cy="410.00" r="4.1" fill="#fff" stroke="#000" stroke-width="1.1"/>
<text x="82.62" y="400.50" font-size="9.20" fill="#000" textLength="42.48" lengthAdjust="spacingAndGlyphs">s. g. stim.</text>
<text x="80.43" y="412.80" font-size="9.20" fill="#000" textLength="50.25" lengthAdjust="spacingAndGlyphs">s. rad. stim.</text>
<line x1="67.20" y1="431.90" x2="67.20" y2="594.50" stroke="#000" stroke-width="1.6" stroke-linecap="butt"/>
<line x1="61.20" y1="556.20" x2="67.20" y2="556.20" stroke="#000" stroke-width="1.5" stroke-linecap="butt"/>
<line x1="61.20" y1="508.45" x2="67.20" y2="508.45" stroke="#000" stroke-width="1.5" stroke-linecap="butt"/>
<line x1="61.20" y1="460.70" x2="67.20" y2="460.70" stroke="#000" stroke-width="1.5" stroke-linecap="butt"/>
<line x1="64.00" y1="580.08" x2="67.20" y2="580.08" stroke="#000" stroke-width="1.5" stroke-linecap="butt"/>
<line x1="64.00" y1="532.33" x2="67.20" y2="532.33" stroke="#000" stroke-width="1.5" stroke-linecap="butt"/>
<line x1="64.00" y1="484.58" x2="67.20" y2="484.58" stroke="#000" stroke-width="1.5" stroke-linecap="butt"/>
<line x1="64.00" y1="436.83" x2="67.20" y2="436.83" stroke="#000" stroke-width="1.5" stroke-linecap="butt"/>
<line x1="69.80" y1="599.60" x2="411.50" y2="599.60" stroke="#000" stroke-width="1.6" stroke-linecap="butt"/>
<line x1="70.70" y1="599.60" x2="70.70" y2="605.80" stroke="#000" stroke-width="1.5" stroke-linecap="butt"/>
<line x1="138.70" y1="599.60" x2="138.70" y2="605.80" stroke="#000" stroke-width="1.5" stroke-linecap="butt"/>
<line x1="206.70" y1="599.60" x2="206.70" y2="605.80" stroke="#000" stroke-width="1.5" stroke-linecap="butt"/>
<line x1="274.70" y1="599.60" x2="274.70" y2="605.80" stroke="#000" stroke-width="1.5" stroke-linecap="butt"/>
<line x1="342.70" y1="599.60" x2="342.70" y2="605.80" stroke="#000" stroke-width="1.5" stroke-linecap="butt"/>
<line x1="410.70" y1="599.60" x2="410.70" y2="605.80" stroke="#000" stroke-width="1.5" stroke-linecap="butt"/>
<line x1="104.70" y1="599.60" x2="104.70" y2="602.40" stroke="#000" stroke-width="1.5" stroke-linecap="butt"/>
<line x1="172.70" y1="599.60" x2="172.70" y2="602.40" stroke="#000" stroke-width="1.5" stroke-linecap="butt"/>
<line x1="240.70" y1="599.60" x2="240.70" y2="602.40" stroke="#000" stroke-width="1.5" stroke-linecap="butt"/>
<line x1="308.70" y1="599.60" x2="308.70" y2="602.40" stroke="#000" stroke-width="1.5" stroke-linecap="butt"/>
<line x1="376.70" y1="599.60" x2="376.70" y2="602.40" stroke="#000" stroke-width="1.5" stroke-linecap="butt"/>
<text x="36.74" y="464.50" font-size="10.89" fill="#222" textLength="20.34" lengthAdjust="spacingAndGlyphs">300</text>
<text x="36.59" y="512.25" font-size="10.89" fill="#222" textLength="20.50" lengthAdjust="spacingAndGlyphs">200</text>
<text x="36.25" y="560.00" font-size="10.89" fill="#222" textLength="20.84" lengthAdjust="spacingAndGlyphs">100</text>
<text x="61.14" y="618.60" font-size="11.75" fill="#222" textLength="18.36" lengthAdjust="spacingAndGlyphs">-10</text>
<text x="135.03" y="618.60" font-size="11.75" fill="#222" textLength="6.75" lengthAdjust="spacingAndGlyphs">0</text>
<text x="200.18" y="618.60" font-size="11.75" fill="#222" textLength="12.05" lengthAdjust="spacingAndGlyphs">10</text>
<text x="268.47" y="618.60" font-size="11.75" fill="#222" textLength="11.74" lengthAdjust="spacingAndGlyphs">20</text>
<text x="336.60" y="618.60" font-size="11.75" fill="#222" textLength="11.61" lengthAdjust="spacingAndGlyphs">30</text>
<text x="404.76" y="618.60" font-size="11.75" fill="#222" textLength="11.44" lengthAdjust="spacingAndGlyphs">40</text>
<text x="205.16" y="642.30" font-size="14.90" fill="#000" class="th" textLength="73.00" lengthAdjust="spacingAndGlyphs">Time (min)</text>
<text x="0" y="0" font-size="14.62" fill="#000" class="th" textLength="193.09" lengthAdjust="spacingAndGlyphs" transform="translate(29.90,608.11) rotate(-90)">Norm. amplitude fEPSP(%)</text>
<rect x="220.20" y="497.40" width="76.50" height="7.10" fill="#f00"/>
<text x="225.01" y="492.40" font-size="17.19" fill="#000" class="th" textLength="63.64" lengthAdjust="spacingAndGlyphs">BRS-015</text>
<rect x="351.00" y="517.90" width="46.90" height="7.40" fill="#888"/>
<text x="347.32" y="514.50" font-size="16.62" fill="#000" class="th" textLength="54.76" lengthAdjust="spacingAndGlyphs">DCG-IV</text>
<path d="M135.30,583.90 L138.90,571.60 L142.50,583.90 Z" fill="#000"/>
<line x1="138.90" y1="582.90" x2="138.90" y2="592.60" stroke="#000" stroke-width="1.8" stroke-linecap="butt"/>
<text x="145.49" y="588.90" font-size="11.03" fill="#000">L-HFS</text>
<path d="M70.70,550.92V558.58M67.10,550.92H74.30M67.10,558.58H74.30M74.10,551.76V558.36M70.50,551.76H77.70M70.50,558.36H77.70M77.50,547.76V560.68M73.90,547.76H81.10M73.90,560.68H81.10M80.90,551.41V560.91M77.30,551.41H84.50M77.30,560.91H84.50M84.30,550.61V559.94M80.70,550.61H87.90M80.70,559.94H87.90M87.70,548.29V559.28M84.10,548.29H91.30M84.10,559.28H91.30M91.10,549.91V561.88M87.50,549.91H94.70M87.50,561.88H94.70M94.50,549.65V557.11M90.90,549.65H98.10M90.90,557.11H98.10M97.90,551.70V558.98M94.30,551.70H101.50M94.30,558.98H101.50M101.30,545.81V554.78M97.70,545.81H104.90M97.70,554.78H104.90M104.70,552.39V564.60M101.10,552.39H108.30M101.10,564.60H108.30M108.10,551.53V564.35M104.50,551.53H111.70M104.50,564.35H111.70M111.50,555.23V562.42M107.90,555.23H115.10M107.90,562.42H115.10M114.90,552.94V563.94M111.30,552.94H118.50M111.30,563.94H118.50M118.30,552.74V561.88M114.70,552.74H121.90M114.70,561.88H121.90M121.70,549.41V561.85M118.10,549.41H125.30M118.10,561.85H125.30M125.10,549.51V557.50M121.50,549.51H128.70M121.50,557.50H128.70M128.50,554.96V562.75M124.90,554.96H132.10M124.90,562.75H132.10M131.90,553.82V559.72M128.30,553.82H135.50M128.30,559.72H135.50M135.30,553.58V565.97M131.70,553.58H138.90M131.70,565.97H138.90M138.70,556.40V563.39M135.10,556.40H142.30M135.10,563.39H142.30M142.10,554.05V561.94M138.50,554.05H145.70M138.50,561.94H145.70M145.50,553.22V560.89M141.90,553.22H149.10M141.90,560.89H149.10M148.90,551.36V564.29M145.30,551.36H152.50M145.30,564.29H152.50M152.30,555.88V562.33M148.70,555.88H155.90M148.70,562.33H155.90M155.70,551.40V559.87M152.10,551.40H159.30M152.10,559.87H159.30M159.10,554.46V565.65M155.50,554.46H162.70M155.50,565.65H162.70M162.50,553.91V561.10M158.90,553.91H166.10M158.90,561.10H166.10M165.90,551.60V562.07M162.30,551.60H169.50M162.30,562.07H169.50M169.30,553.95V563.25M165.70,553.95H172.90M165.70,563.25H172.90M172.70,556.09V562.15M169.10,556.09H176.30M169.10,562.15H176.30M176.10,558.14V568.95M172.50,558.14H179.70M172.50,568.95H179.70M179.50,563.58V572.36M175.90,563.58H183.10M175.90,572.36H183.10M182.90,557.95V565.67M179.30,557.95H186.50M179.30,565.67H186.50M186.30,556.36V570.27M182.70,556.36H189.90M182.70,570.27H189.90M189.70,555.87V568.73M186.10,555.87H193.30M186.10,568.73H193.30M193.10,556.22V565.96M189.50,556.22H196.70M189.50,565.96H196.70M196.50,556.00V564.74M192.90,556.00H200.10M192.90,564.74H200.10M199.90,557.82V564.07M196.30,557.82H203.50M196.30,564.07H203.50M203.30,555.12V567.26M199.70,555.12H206.90M199.70,567.26H206.90M206.70,560.37V568.75M203.10,560.37H210.30M203.10,568.75H210.30M210.10,554.38V564.82M206.50,554.38H213.70M206.50,564.82H213.70M213.50,558.72V570.14M209.90,558.72H217.10M209.90,570.14H217.10M216.90,557.66V570.18M213.30,557.66H220.50M213.30,570.18H220.50M220.30,556.75V564.34M216.70,556.75H223.90M216.70,564.34H223.90M223.70,561.03V568.09M220.10,561.03H227.30M220.10,568.09H227.30M227.10,559.77V572.61M223.50,559.77H230.70M223.50,572.61H230.70M230.50,562.84V569.62M226.90,562.84H234.10M226.90,569.62H234.10M233.90,556.46V566.28M230.30,556.46H237.50M230.30,566.28H237.50M237.30,561.00V567.70M233.70,561.00H240.90M233.70,567.70H240.90M240.70,557.46V565.64M237.10,557.46H244.30M237.10,565.64H244.30M244.10,560.99V569.04M240.50,560.99H247.70M240.50,569.04H247.70M247.50,553.59V567.27M243.90,553.59H251.10M243.90,567.27H251.10M250.90,553.92V566.81M247.30,553.92H254.50M247.30,566.81H254.50M254.30,558.45V567.07M250.70,558.45H257.90M250.70,567.07H257.90M257.70,551.25V562.87M254.10,551.25H261.30M254.10,562.87H261.30M261.10,557.73V568.59M257.50,557.73H264.70M257.50,568.59H264.70M264.50,559.68V567.04M260.90,559.68H268.10M260.90,567.04H268.10M267.90,562.34V572.08M264.30,562.34H271.50M264.30,572.08H271.50M271.30,555.38V568.61M267.70,555.38H274.90M267.70,568.61H274.90M274.70,559.76V567.54M271.10,559.76H278.30M271.10,567.54H278.30M278.10,561.98V570.76M274.50,561.98H281.70M274.50,570.76H281.70M281.50,558.29V568.15M277.90,558.29H285.10M277.90,568.15H285.10M284.90,560.03V566.76M281.30,560.03H288.50M281.30,566.76H288.50M288.30,557.90V571.56M284.70,557.90H291.90M284.70,571.56H291.90M291.70,559.49V569.79M288.10,559.49H295.30M288.10,569.79H295.30M295.10,559.57V572.10M291.50,559.57H298.70M291.50,572.10H298.70M298.50,557.18V568.74M294.90,557.18H302.10M294.90,568.74H302.10M301.90,553.82V567.72M298.30,553.82H305.50M298.30,567.72H305.50M305.30,555.91V568.75M301.70,555.91H308.90M301.70,568.75H308.90M308.70,555.53V566.03M305.10,555.53H312.30M305.10,566.03H312.30M312.10,557.85V565.87M308.50,557.85H315.70M308.50,565.87H315.70M315.50,554.33V565.14M311.90,554.33H319.10M311.90,565.14H319.10M318.90,556.10V563.08M315.30,556.10H322.50M315.30,563.08H322.50M322.30,559.59V567.27M318.70,559.59H325.90M318.70,567.27H325.90M325.70,555.65V570.34M322.10,555.65H329.30M322.10,570.34H329.30M329.10,557.28V569.09M325.50,557.28H332.70M325.50,569.09H332.70M332.50,559.83V574.23M328.90,559.83H336.10M328.90,574.23H336.10M335.90,561.09V575.07M332.30,561.09H339.50M332.30,575.07H339.50M339.30,559.81V571.84M335.70,559.81H342.90M335.70,571.84H342.90M342.70,557.56V571.52M339.10,557.56H346.30M339.10,571.52H346.30M346.10,556.06V572.12M342.50,556.06H349.70M342.50,572.12H349.70M349.50,553.95V570.10M345.90,553.95H353.10M345.90,570.10H353.10M352.90,555.50V565.08M349.30,555.50H356.50M349.30,565.08H356.50M356.30,559.32V575.20M352.70,559.32H359.90M352.70,575.20H359.90M359.70,562.23V573.95M356.10,562.23H363.30M356.10,573.95H363.30M363.10,559.45V568.68M359.50,559.45H366.70M359.50,568.68H366.70M366.50,560.22V571.43M362.90,560.22H370.10M362.90,571.43H370.10M369.90,558.48V571.40M366.30,558.48H373.50M366.30,571.40H373.50M373.30,558.04V573.97M369.70,558.04H376.90M369.70,573.97H376.90M376.70,556.02V572.14M373.10,556.02H380.30M373.10,572.14H380.30M380.10,558.35V571.16M376.50,558.35H383.70M376.50,571.16H383.70M383.50,558.36V573.63M379.90,558.36H387.10M379.90,573.63H387.10M386.90,561.07V573.66M383.30,561.07H390.50M383.30,573.66H390.50M390.30,563.83V572.17M386.70,563.83H393.90M386.70,572.17H393.90M393.70,560.16V571.90M390.10,560.16H397.30M390.10,571.90H397.30" stroke="#000" stroke-width="1.4" fill="none"/>
<circle cx="70.70" cy="554.75" r="4.1" fill="#fff" stroke="#000" stroke-width="1.1"/>
<circle cx="74.10" cy="555.06" r="4.1" fill="#fff" stroke="#000" stroke-width="1.1"/>
<circle cx="77.50" cy="554.22" r="4.1" fill="#fff" stroke="#000" stroke-width="1.1"/>
<circle cx="80.90" cy="556.16" r="4.1" fill="#fff" stroke="#000" stroke-width="1.1"/>
<circle cx="84.30" cy="555.27" r="4.1" fill="#fff" stroke="#000" stroke-width="1.1"/>
<circle cx="87.70" cy="553.78" r="4.1" fill="#fff" stroke="#000" stroke-width="1.1"/>
<circle cx="91.10" cy="555.89" r="4.1" fill="#fff" stroke="#000" stroke-width="1.1"/>
<circle cx="94.50" cy="553.38" r="4.1" fill="#fff" stroke="#000" stroke-width="1.1"/>
<circle cx="97.90" cy="555.34" r="4.1" fill="#fff" stroke="#000" stroke-width="1.1"/>
<circle cx="101.30" cy="550.29" r="4.1" fill="#fff" stroke="#000" stroke-width="1.1"/>
<circle cx="104.70" cy="558.49" r="4.1" fill="#fff" stroke="#000" stroke-width="1.1"/>
<circle cx="108.10" cy="557.94" r="4.1" fill="#fff" stroke="#000" stroke-width="1.1"/>
<circle cx="111.50" cy="558.82" r="4.1" fill="#fff" stroke="#000" stroke-width="1.1"/>
<circle cx="114.90" cy="558.44" r="4.1" fill="#fff" stroke="#000" stroke-width="1.1"/>
<circle cx="118.30" cy="557.31" r="4.1" fill="#fff" stroke="#000" stroke-width="1.1"/>
<circle cx="121.70" cy="555.63" r="4.1" fill="#fff" stroke="#000" stroke-width="1.1"/>
<circle cx="125.10" cy="553.50" r="4.1" fill="#fff" stroke="#000" stroke-width="1.1"/>
<circle cx="128.50" cy="558.86" r="4.1" fill="#fff" stroke="#000" stroke-width="1.1"/>
<circle cx="131.90" cy="556.77" r="4.1" fill="#fff" stroke="#000" stroke-width="1.1"/>
<circle cx="135.30" cy="559.77" r="4.1" fill="#fff" stroke="#000" stroke-width="1.1"/>
<circle cx="138.70" cy="559.90" r="4.1" fill="#fff" stroke="#000" stroke-width="1.1"/>
<circle cx="142.10" cy="557.99" r="4.1" fill="#fff" stroke="#000" stroke-width="1.1"/>
<circle cx="145.50" cy="557.05" r="4.1" fill="#fff" stroke="#000" stroke-width="1.1"/>
<circle cx="148.90" cy="557.83" r="4.1" fill="#fff" stroke="#000" stroke-width="1.1"/>
<circle cx="152.30" cy="559.11" r="4.1" fill="#fff" stroke="#000" stroke-width="1.1"/>
<circle cx="155.70" cy="555.64" r="4.1" fill="#fff" stroke="#000" stroke-width="1.1"/>
<circle cx="159.10" cy="560.06" r="4.1" fill="#fff" stroke="#000" stroke-width="1.1"/>
<circle cx="162.50" cy="557.50" r="4.1" fill="#fff" stroke="#000" stroke-width="1.1"/>
<circle cx="165.90" cy="556.83" r="4.1" fill="#fff" stroke="#000" stroke-width="1.1"/>
<circle cx="169.30" cy="558.60" r="4.1" fill="#fff" stroke="#000" stroke-width="1.1"/>
<circle cx="172.70" cy="559.12" r="4.1" fill="#fff" stroke="#000" stroke-width="1.1"/>
<circle cx="176.10" cy="563.54" r="4.1" fill="#fff" stroke="#000" stroke-width="1.1"/>
<circle cx="179.50" cy="567.97" r="4.1" fill="#fff" stroke="#000" stroke-width="1.1"/>
<circle cx="182.90" cy="561.81" r="4.1" fill="#fff" stroke="#000" stroke-width="1.1"/>
<circle cx="186.30" cy="563.31" r="4.1" fill="#fff" stroke="#000" stroke-width="1.1"/>
<circle cx="189.70" cy="562.30" r="4.1" fill="#fff" stroke="#000" stroke-width="1.1"/>
<circle cx="193.10" cy="561.09" r="4.1" fill="#fff" stroke="#000" stroke-width="1.1"/>
<circle cx="196.50" cy="560.37" r="4.1" fill="#fff" stroke="#000" stroke-width="1.1"/>
<circle cx="199.90" cy="560.95" r="4.1" fill="#fff" stroke="#000" stroke-width="1.1"/>
<circle cx="203.30" cy="561.19" r="4.1" fill="#fff" stroke="#000" stroke-width="1.1"/>
<circle cx="206.70" cy="564.56" r="4.1" fill="#fff" stroke="#000" stroke-width="1.1"/>
<circle cx="210.10" cy="559.60" r="4.1" fill="#fff" stroke="#000" stroke-width="1.1"/>
<circle cx="213.50" cy="564.43" r="4.1" fill="#fff" stroke="#000" stroke-width="1.1"/>
<circle cx="216.90" cy="563.92" r="4.1" fill="#fff" stroke="#000" stroke-width="1.1"/>
<circle cx="220.30" cy="560.54" r="4.1" fill="#fff" stroke="#000" stroke-width="1.1"/>
<circle cx="223.70" cy="564.56" r="4.1" fill="#fff" stroke="#000" stroke-width="1.1"/>
<circle cx="227.10" cy="566.19" r="4.1" fill="#fff" stroke="#000" stroke-width="1.1"/>
<circle cx="230.50" cy="566.23" r="4.1" fill="#fff" stroke="#000" stroke-width="1.1"/>
<circle cx="233.90" cy="561.37" r="4.1" fill="#fff" stroke="#000" stroke-width="1.1"/>
<circle cx="237.30" cy="564.35" r="4.1" fill="#fff" stroke="#000" stroke-width="1.1"/>
<circle cx="240.70" cy="561.55" r="4.1" fill="#fff" stroke="#000" stroke-width="1.1"/>
<circle cx="244.10" cy="565.02" r="4.1" fill="#fff" stroke="#000" stroke-width="1.1"/>
<circle cx="247.50" cy="560.43" r="4.1" fill="#fff" stroke="#000" stroke-width="1.1"/>
<circle cx="250.90" cy="560.36" r="4.1" fill="#fff" stroke="#000" stroke-width="1.1"/>
<circle cx="254.30" cy="562.76" r="4.1" fill="#fff" stroke="#000" stroke-width="1.1"/>
<circle cx="257.70" cy="557.06" r="4.1" fill="#fff" stroke="#000" stroke-width="1.1"/>
<circle cx="261.10" cy="563.16" r="4.1" fill="#fff" stroke="#000" stroke-width="1.1"/>
<circle cx="264.50" cy="563.36" r="4.1" fill="#fff" stroke="#000" stroke-width="1.1"/>
<circle cx="267.90" cy="567.21" r="4.1" fill="#fff" stroke="#000" stroke-width="1.1"/>
<circle cx="271.30" cy="562.00" r="4.1" fill="#fff" stroke="#000" stroke-width="1.1"/>
<circle cx="274.70" cy="563.65" r="4.1" fill="#fff" stroke="#000" stroke-width="1.1"/>
<circle cx="278.10" cy="566.37" r="4.1" fill="#fff" stroke="#000" stroke-width="1.1"/>
<circle cx="281.50" cy="563.22" r="4.1" fill="#fff" stroke="#000" stroke-width="1.1"/>
<circle cx="284.90" cy="563.40" r="4.1" fill="#fff" stroke="#000" stroke-width="1.1"/>
<circle cx="288.30" cy="564.73" r="4.1" fill="#fff" stroke="#000" stroke-width="1.1"/>
<circle cx="291.70" cy="564.64" r="4.1" fill="#fff" stroke="#000" stroke-width="1.1"/>
<circle cx="295.10" cy="565.83" r="4.1" fill="#fff" stroke="#000" stroke-width="1.1"/>
<circle cx="298.50" cy="562.96" r="4.1" fill="#fff" stroke="#000" stroke-width="1.1"/>
<circle cx="301.90" cy="560.77" r="4.1" fill="#fff" stroke="#000" stroke-width="1.1"/>
<circle cx="305.30" cy="562.33" r="4.1" fill="#fff" stroke="#000" stroke-width="1.1"/>
<circle cx="308.70" cy="560.78" r="4.1" fill="#fff" stroke="#000" stroke-width="1.1"/>
<circle cx="312.10" cy="561.86" r="4.1" fill="#fff" stroke="#000" stroke-width="1.1"/>
<circle cx="315.50" cy="559.74" r="4.1" fill="#fff" stroke="#000" stroke-width="1.1"/>
<circle cx="318.90" cy="559.59" r="4.1" fill="#fff" stroke="#000" stroke-width="1.1"/>
<circle cx="322.30" cy="563.43" r="4.1" fill="#fff" stroke="#000" stroke-width="1.1"/>
<circle cx="325.70" cy="563.00" r="4.1" fill="#fff" stroke="#000" stroke-width="1.1"/>
<circle cx="329.10" cy="563.19" r="4.1" fill="#fff" stroke="#000" stroke-width="1.1"/>
<circle cx="332.50" cy="567.03" r="4.1" fill="#fff" stroke="#000" stroke-width="1.1"/>
<circle cx="335.90" cy="568.08" r="4.1" fill="#fff" stroke="#000" stroke-width="1.1"/>
<circle cx="339.30" cy="565.83" r="4.1" fill="#fff" stroke="#000" stroke-width="1.1"/>
<circle cx="342.70" cy="564.54" r="4.1" fill="#fff" stroke="#000" stroke-width="1.1"/>
<circle cx="346.10" cy="564.09" r="4.1" fill="#fff" stroke="#000" stroke-width="1.1"/>
<circle cx="349.50" cy="562.02" r="4.1" fill="#fff" stroke="#000" stroke-width="1.1"/>
<circle cx="352.90" cy="560.29" r="4.1" fill="#fff" stroke="#000" stroke-width="1.1"/>
<circle cx="356.30" cy="567.26" r="4.1" fill="#fff" stroke="#000" stroke-width="1.1"/>
<circle cx="359.70" cy="568.09" r="4.1" fill="#fff" stroke="#000" stroke-width="1.1"/>
<circle cx="363.10" cy="564.07" r="4.1" fill="#fff" stroke="#000" stroke-width="1.1"/>
<circle cx="366.50" cy="565.82" r="4.1" fill="#fff" stroke="#000" stroke-width="1.1"/>
<circle cx="369.90" cy="564.94" r="4.1" fill="#fff" stroke="#000" stroke-width="1.1"/>
<circle cx="373.30" cy="566.00" r="4.1" fill="#fff" stroke="#000" stroke-width="1.1"/>
<circle cx="376.70" cy="564.08" r="4.1" fill="#fff" stroke="#000" stroke-width="1.1"/>
<circle cx="380.10" cy="564.75" r="4.1" fill="#fff" stroke="#000" stroke-width="1.1"/>
<circle cx="383.50" cy="565.99" r="4.1" fill="#fff" stroke="#000" stroke-width="1.1"/>
<circle cx="386.90" cy="567.37" r="4.1" fill="#fff" stroke="#000" stroke-width="1.1"/>
<circle cx="390.30" cy="568.00" r="4.1" fill="#fff" stroke="#000" stroke-width="1.1"/>
<circle cx="393.70" cy="566.03" r="4.1" fill="#fff" stroke="#000" stroke-width="1.1"/>
<path d="M70.70,551.01V557.47M67.10,551.01H74.30M67.10,557.47H74.30M73.42,551.40V558.54M69.82,551.40H77.02M69.82,558.54H77.02M76.14,549.02V553.95M72.54,549.02H79.74M72.54,553.95H79.74M78.86,551.74V557.25M75.26,551.74H82.46M75.26,557.25H82.46M81.58,551.12V556.63M77.98,551.12H85.18M77.98,556.63H85.18M84.30,549.32V554.53M80.70,549.32H87.90M80.70,554.53H87.90M87.02,552.13V557.47M83.42,552.13H90.62M83.42,557.47H90.62M89.74,551.49V557.16M86.14,551.49H93.34M86.14,557.16H93.34M92.46,550.38V556.23M88.86,550.38H96.06M88.86,556.23H96.06M95.18,551.30V556.35M91.58,551.30H98.78M91.58,556.35H98.78M97.90,552.42V557.10M94.30,552.42H101.50M94.30,557.10H101.50M100.62,551.48V556.64M97.02,551.48H104.22M97.02,556.64H104.22M103.34,552.37V557.06M99.74,552.37H106.94M99.74,557.06H106.94M106.06,551.44V556.65M102.46,551.44H109.66M102.46,556.65H109.66M108.78,554.11V560.35M105.18,554.11H112.38M105.18,560.35H112.38M111.50,553.55V559.57M107.90,553.55H115.10M107.90,559.57H115.10M114.22,550.58V557.73M110.62,550.58H117.82M110.62,557.73H117.82M116.94,550.17V556.08M113.34,550.17H120.54M113.34,556.08H120.54M119.66,554.02V559.89M116.06,554.02H123.26M116.06,559.89H123.26M122.38,551.12V557.26M118.78,551.12H125.98M118.78,557.26H125.98M125.10,552.75V559.13M121.50,552.75H128.70M121.50,559.13H128.70M127.82,552.65V558.71M124.22,552.65H131.42M124.22,558.71H131.42M130.54,552.59V558.58M126.94,552.59H134.14M126.94,558.58H134.14M133.26,551.92V557.95M129.66,551.92H136.86M129.66,557.95H136.86M135.98,550.47V555.79M132.38,550.47H139.58M132.38,555.79H139.58M141.69,505.61V538.24M138.09,505.61H145.29M138.09,538.24H145.29M145.50,437.14V479.35M141.90,437.14H149.10M141.90,479.35H149.10M148.36,454.47V485.81M144.76,454.47H151.96M144.76,485.81H151.96M151.21,467.52V495.58M147.61,467.52H154.81M147.61,495.58H154.81M154.07,478.93V502.36M150.47,478.93H157.67M150.47,502.36H157.67M156.92,483.04V509.22M153.32,483.04H160.52M153.32,509.22H160.52M159.78,492.30V513.25M156.18,492.30H163.38M156.18,513.25H163.38M162.64,493.72V516.26M159.04,493.72H166.24M159.04,516.26H166.24M165.49,497.13V517.75M161.89,497.13H169.09M161.89,517.75H169.09M168.35,498.25V521.19M164.75,498.25H171.95M164.75,521.19H171.95M171.20,500.07V523.33M167.60,500.07H174.80M167.60,523.33H174.80M174.06,500.95V526.64M170.46,500.95H177.66M170.46,526.64H177.66M176.92,500.45V527.80M173.32,500.45H180.52M173.32,527.80H180.52M179.77,505.02V530.00M176.17,505.02H183.37M176.17,530.00H183.37M182.63,507.70V526.76M179.03,507.70H186.23M179.03,526.76H186.23M185.48,507.72V534.58M181.88,507.72H189.08M181.88,534.58H189.08M188.34,510.18V534.60M184.74,510.18H191.94M184.74,534.60H191.94M191.20,512.03V533.37M187.60,512.03H194.80M187.60,533.37H194.80M194.05,512.23V534.57M190.45,512.23H197.65M190.45,534.57H197.65M196.91,514.29V534.73M193.31,514.29H200.51M193.31,534.73H200.51M199.76,515.86V532.41M196.16,515.86H203.36M196.16,532.41H203.36M202.62,514.73V535.44M199.02,514.73H206.22M199.02,535.44H206.22M205.48,514.91V538.35M201.88,514.91H209.08M201.88,538.35H209.08M208.33,518.12V538.93M204.73,518.12H211.93M204.73,538.93H211.93M211.19,521.75V536.74M207.59,521.75H214.79M207.59,536.74H214.79M214.04,521.42V535.46M210.44,521.42H217.64M210.44,535.46H217.64M216.90,520.64V541.09M213.30,520.64H220.50M213.30,541.09H220.50M219.76,523.86V543.54M216.16,523.86H223.36M216.16,543.54H223.36M222.61,525.28V543.29M219.01,525.28H226.21M219.01,543.29H226.21M225.47,526.65V544.46M221.87,526.65H229.07M221.87,544.46H229.07M228.32,528.36V541.08M224.72,528.36H231.92M224.72,541.08H231.92M231.18,528.43V546.02M227.58,528.43H234.78M227.58,546.02H234.78M234.04,529.02V541.67M230.44,529.02H237.64M230.44,541.67H237.64M236.89,530.99V543.13M233.29,530.99H240.49M233.29,543.13H240.49M239.75,530.62V544.37M236.15,530.62H243.35M236.15,544.37H243.35M242.60,532.60V543.32M239.00,532.60H246.20M239.00,543.32H246.20M245.46,527.74V544.43M241.86,527.74H249.06M241.86,544.43H249.06M248.32,531.33V543.11M244.72,531.33H251.92M244.72,543.11H251.92M251.17,529.40V545.22M247.57,529.40H254.77M247.57,545.22H254.77M254.03,527.72V542.38M250.43,527.72H257.63M250.43,542.38H257.63M256.88,527.15V543.07M253.28,527.15H260.48M253.28,543.07H260.48M259.74,525.77V540.44M256.14,525.77H263.34M256.14,540.44H263.34M262.60,525.71V542.83M259.00,525.71H266.20M259.00,542.83H266.20M265.45,530.98V544.01M261.85,530.98H269.05M261.85,544.01H269.05M268.31,526.15V539.93M264.71,526.15H271.91M264.71,539.93H271.91M271.16,529.80V542.44M267.56,529.80H274.76M267.56,542.44H274.76M274.02,524.26V539.63M270.42,524.26H277.62M270.42,539.63H277.62M276.88,525.97V538.26M273.28,525.97H280.48M273.28,538.26H280.48M279.73,527.69V543.32M276.13,527.69H283.33M276.13,543.32H283.33M282.59,531.72V542.46M278.99,531.72H286.19M278.99,542.46H286.19M285.44,532.21V543.92M281.84,532.21H289.04M281.84,543.92H289.04M288.30,529.55V542.57M284.70,529.55H291.90M284.70,542.57H291.90M291.16,532.90V543.78M287.56,532.90H294.76M287.56,543.78H294.76M294.01,534.15V545.49M290.41,534.15H297.61M290.41,545.49H297.61M296.87,532.63V548.17M293.27,532.63H300.47M293.27,548.17H300.47M299.72,532.43V544.81M296.12,532.43H303.32M296.12,544.81H303.32M302.58,536.04V547.36M298.98,536.04H306.18M298.98,547.36H306.18M305.44,534.54V549.92M301.84,534.54H309.04M301.84,549.92H309.04M308.29,536.42V549.97M304.69,536.42H311.89M304.69,549.97H311.89M311.15,536.97V550.84M307.55,536.97H314.75M307.55,550.84H314.75M314.00,537.12V552.59M310.40,537.12H317.60M310.40,552.59H317.60M316.86,540.84V555.12M313.26,540.84H320.46M313.26,555.12H320.46M319.72,542.72V554.06M316.12,542.72H323.32M316.12,554.06H323.32M322.57,545.21V554.86M318.97,545.21H326.17M318.97,554.86H326.17M325.43,544.38V557.44M321.83,544.38H329.03M321.83,557.44H329.03M328.28,542.64V556.64M324.68,542.64H331.88M324.68,556.64H331.88M331.14,545.25V559.81M327.54,545.25H334.74M327.54,559.81H334.74M334.00,547.65V558.28M330.40,547.65H337.60M330.40,558.28H337.60M336.85,547.95V561.32M333.25,547.95H340.45M333.25,561.32H340.45M339.71,547.85V563.05M336.11,547.85H343.31M336.11,563.05H343.31M342.56,549.28V560.20M338.96,549.28H346.16M338.96,560.20H346.16M345.42,550.82V561.69M341.82,550.82H349.02M341.82,561.69H349.02M348.28,550.60V561.99M344.68,550.60H351.88M344.68,561.99H351.88M351.13,549.16V561.10M347.53,549.16H354.73M347.53,561.10H354.73M353.99,548.14V562.11M350.39,548.14H357.59M350.39,562.11H357.59M356.84,548.96V560.37M353.24,548.96H360.44M353.24,560.37H360.44M359.70,548.46V561.14M356.10,548.46H363.30M356.10,561.14H363.30M362.56,550.93V562.06M358.96,550.93H366.16M358.96,562.06H366.16M365.41,551.19V561.08M361.81,551.19H369.01M361.81,561.08H369.01M365.82,552.25V561.26M362.22,552.25H369.42M362.22,561.26H369.42M367.18,553.11V562.21M363.58,553.11H370.78M363.58,562.21H370.78M368.54,555.89V566.93M364.94,555.89H372.14M364.94,566.93H372.14M369.90,554.92V562.93M366.30,554.92H373.50M366.30,562.93H373.50M371.26,564.51V571.39M367.66,564.51H374.86M367.66,571.39H374.86M372.62,567.77V573.98M369.02,567.77H376.22M369.02,573.98H376.22M373.98,572.37V578.99M370.38,572.37H377.58M370.38,578.99H377.58M375.34,577.30V581.94M371.74,577.30H378.94M371.74,581.94H378.94M376.70,581.21V584.47M373.10,581.21H380.30M373.10,584.47H380.30M378.06,585.09V588.59M374.46,585.09H381.66M374.46,588.59H381.66M379.42,587.11V590.13M375.82,587.11H383.02M375.82,590.13H383.02M380.78,587.63V591.33M377.18,587.63H384.38M377.18,591.33H384.38M383.50,586.90V591.31M379.90,586.90H387.10M379.90,591.31H387.10M386.36,586.83V590.55M382.76,586.83H389.96M382.76,590.55H389.96M389.21,587.99V591.71M385.61,587.99H392.81M385.61,591.71H392.81M392.07,588.07V590.99M388.47,588.07H395.67M388.47,590.99H395.67M394.92,587.51V590.90M391.32,587.51H398.52M391.32,590.90H398.52" stroke="#000" stroke-width="1.4" fill="none"/>
<circle cx="70.70" cy="554.24" r="4.4" fill="#000" stroke="#000" stroke-width="0.6"/>
<circle cx="73.42" cy="554.97" r="4.4" fill="#000" stroke="#000" stroke-width="0.6"/>
<circle cx="76.14" cy="551.48" r="4.4" fill="#000" stroke="#000" stroke-width="0.6"/>
<circle cx="78.86" cy="554.50" r="4.4" fill="#000" stroke="#000" stroke-width="0.6"/>
<circle cx="81.58" cy="553.87" r="4.4" fill="#000" stroke="#000" stroke-width="0.6"/>
<circle cx="84.30" cy="551.92" r="4.4" fill="#000" stroke="#000" stroke-width="0.6"/>
<circle cx="87.02" cy="554.80" r="4.4" fill="#000" stroke="#000" stroke-width="0.6"/>
<circle cx="89.74" cy="554.33" r="4.4" fill="#000" stroke="#000" stroke-width="0.6"/>
<circle cx="92.46" cy="553.30" r="4.4" fill="#000" stroke="#000" stroke-width="0.6"/>
<circle cx="95.18" cy="553.82" r="4.4" fill="#000" stroke="#000" stroke-width="0.6"/>
<circle cx="97.90" cy="554.76" r="4.4" fill="#000" stroke="#000" stroke-width="0.6"/>
<circle cx="100.62" cy="554.06" r="4.4" fill="#000" stroke="#000" stroke-width="0.6"/>
<circle cx="103.34" cy="554.72" r="4.4" fill="#000" stroke="#000" stroke-width="0.6"/>
<circle cx="106.06" cy="554.05" r="4.4" fill="#000" stroke="#000" stroke-width="0.6"/>
<circle cx="108.78" cy="557.23" r="4.4" fill="#000" stroke="#000" stroke-width="0.6"/>
<circle cx="111.50" cy="556.56" r="4.4" fill="#000" stroke="#000" stroke-width="0.6"/>
<circle cx="114.22" cy="554.16" r="4.4" fill="#000" stroke="#000" stroke-width="0.6"/>
<circle cx="116.94" cy="553.12" r="4.4" fill="#000" stroke="#000" stroke-width="0.6"/>
<circle cx="119.66" cy="556.95" r="4.4" fill="#000" stroke="#000" stroke-width="0.6"/>
<circle cx="122.38" cy="554.19" r="4.4" fill="#000" stroke="#000" stroke-width="0.6"/>
<circle cx="125.10" cy="555.94" r="4.4" fill="#000" stroke="#000" stroke-width="0.6"/>
<circle cx="127.82" cy="555.68" r="4.4" fill="#000" stroke="#000" stroke-width="0.6"/>
<circle cx="130.54" cy="555.58" r="4.4" fill="#000" stroke="#000" stroke-width="0.6"/>
<circle cx="133.26" cy="554.93" r="4.4" fill="#000" stroke="#000" stroke-width="0.6"/>
<circle cx="135.98" cy="553.13" r="4.4" fill="#000" stroke="#000" stroke-width="0.6"/>
<circle cx="141.69" cy="521.92" r="4.4" fill="#000" stroke="#000" stroke-width="0.6"/>
<circle cx="145.50" cy="458.24" r="4.4" fill="#000" stroke="#000" stroke-width="0.6"/>
<circle cx="148.36" cy="470.14" r="4.4" fill="#000" stroke="#000" stroke-width="0.6"/>
<circle cx="151.21" cy="481.55" r="4.4" fill="#000" stroke="#000" stroke-width="0.6"/>
<circle cx="154.07" cy="490.64" r="4.4" fill="#000" stroke="#000" stroke-width="0.6"/>
<circle cx="156.92" cy="496.13" r="4.4" fill="#000" stroke="#000" stroke-width="0.6"/>
<circle cx="159.78" cy="502.77" r="4.4" fill="#000" stroke="#000" stroke-width="0.6"/>
<circle cx="162.64" cy="504.99" r="4.4" fill="#000" stroke="#000" stroke-width="0.6"/>
<circle cx="165.49" cy="507.44" r="4.4" fill="#000" stroke="#000" stroke-width="0.6"/>
<circle cx="168.35" cy="509.72" r="4.4" fill="#000" stroke="#000" stroke-width="0.6"/>
<circle cx="171.20" cy="511.70" r="4.4" fill="#000" stroke="#000" stroke-width="0.6"/>
<circle cx="174.06" cy="513.79" r="4.4" fill="#000" stroke="#000" stroke-width="0.6"/>
<circle cx="176.92" cy="514.12" r="4.4" fill="#000" stroke="#000" stroke-width="0.6"/>
<circle cx="179.77" cy="517.51" r="4.4" fill="#000" stroke="#000" stroke-width="0.6"/>
<circle cx="182.63" cy="517.23" r="4.4" fill="#000" stroke="#000" stroke-width="0.6"/>
<circle cx="185.48" cy="521.15" r="4.4" fill="#000" stroke="#000" stroke-width="0.6"/>
<circle cx="188.34" cy="522.39" r="4.4" fill="#000" stroke="#000" stroke-width="0.6"/>
<circle cx="191.20" cy="522.70" r="4.4" fill="#000" stroke="#000" stroke-width="0.6"/>
<circle cx="194.05" cy="523.40" r="4.4" fill="#000" stroke="#000" stroke-width="0.6"/>
<circle cx="196.91" cy="524.51" r="4.4" fill="#000" stroke="#000" stroke-width="0.6"/>
<circle cx="199.76" cy="524.13" r="4.4" fill="#000" stroke="#000" stroke-width="0.6"/>
<circle cx="202.62" cy="525.09" r="4.4" fill="#000" stroke="#000" stroke-width="0.6"/>
<circle cx="205.48" cy="526.63" r="4.4" fill="#000" stroke="#000" stroke-width="0.6"/>
<circle cx="208.33" cy="528.52" r="4.4" fill="#000" stroke="#000" stroke-width="0.6"/>
<circle cx="211.19" cy="529.25" r="4.4" fill="#000" stroke="#000" stroke-width="0.6"/>
<circle cx="214.04" cy="528.44" r="4.4" fill="#000" stroke="#000" stroke-width="0.6"/>
<circle cx="216.90" cy="530.87" r="4.4" fill="#000" stroke="#000" stroke-width="0.6"/>
<circle cx="219.76" cy="533.70" r="4.4" fill="#000" stroke="#000" stroke-width="0.6"/>
<circle cx="222.61" cy="534.28" r="4.4" fill="#000" stroke="#000" stroke-width="0.6"/>
<circle cx="225.47" cy="535.55" r="4.4" fill="#000" stroke="#000" stroke-width="0.6"/>
<circle cx="228.32" cy="534.72" r="4.4" fill="#000" stroke="#000" stroke-width="0.6"/>
<circle cx="231.18" cy="537.23" r="4.4" fill="#000" stroke="#000" stroke-width="0.6"/>
<circle cx="234.04" cy="535.35" r="4.4" fill="#000" stroke="#000" stroke-width="0.6"/>
<circle cx="236.89" cy="537.06" r="4.4" fill="#000" stroke="#000" stroke-width="0.6"/>
<circle cx="239.75" cy="537.50" r="4.4" fill="#000" stroke="#000" stroke-width="0.6"/>
<circle cx="242.60" cy="537.96" r="4.4" fill="#000" stroke="#000" stroke-width="0.6"/>
<circle cx="245.46" cy="536.08" r="4.4" fill="#000" stroke="#000" stroke-width="0.6"/>
<circle cx="248.32" cy="537.22" r="4.4" fill="#000" stroke="#000" stroke-width="0.6"/>
<circle cx="251.17" cy="537.31" r="4.4" fill="#000" stroke="#000" stroke-width="0.6"/>
<circle cx="254.03" cy="535.05" r="4.4" fill="#000" stroke="#000" stroke-width="0.6"/>
<circle cx="256.88" cy="535.11" r="4.4" fill="#000" stroke="#000" stroke-width="0.6"/>
<circle cx="259.74" cy="533.10" r="4.4" fill="#000" stroke="#000" stroke-width="0.6"/>
<circle cx="262.60" cy="534.27" r="4.4" fill="#000" stroke="#000" stroke-width="0.6"/>
<circle cx="265.45" cy="537.50" r="4.4" fill="#000" stroke="#000" stroke-width="0.6"/>
<circle cx="268.31" cy="533.04" r="4.4" fill="#000" stroke="#000" stroke-width="0.6"/>
<circle cx="271.16" cy="536.12" r="4.4" fill="#000" stroke="#000" stroke-width="0.6"/>
<circle cx="274.02" cy="531.94" r="4.4" fill="#000" stroke="#000" stroke-width="0.6"/>
<circle cx="276.88" cy="532.12" r="4.4" fill="#000" stroke="#000" stroke-width="0.6"/>
<circle cx="279.73" cy="535.50" r="4.4" fill="#000" stroke="#000" stroke-width="0.6"/>
<circle cx="282.59" cy="537.09" r="4.4" fill="#000" stroke="#000" stroke-width="0.6"/>
<circle cx="285.44" cy="538.07" r="4.4" fill="#000" stroke="#000" stroke-width="0.6"/>
<circle cx="288.30" cy="536.06" r="4.4" fill="#000" stroke="#000" stroke-width="0.6"/>
<circle cx="291.16" cy="538.34" r="4.4" fill="#000" stroke="#000" stroke-width="0.6"/>
<circle cx="294.01" cy="539.82" r="4.4" fill="#000" stroke="#000" stroke-width="0.6"/>
<circle cx="296.87" cy="540.40" r="4.4" fill="#000" stroke="#000" stroke-width="0.6"/>
<circle cx="299.72" cy="538.62" r="4.4" fill="#000" stroke="#000" stroke-width="0.6"/>
<circle cx="302.58" cy="541.70" r="4.4" fill="#000" stroke="#000" stroke-width="0.6"/>
<circle cx="305.44" cy="542.23" r="4.4" fill="#000" stroke="#000" stroke-width="0.6"/>
<circle cx="308.29" cy="543.19" r="4.4" fill="#000" stroke="#000" stroke-width="0.6"/>
<circle cx="311.15" cy="543.91" r="4.4" fill="#000" stroke="#000" stroke-width="0.6"/>
<circle cx="314.00" cy="544.86" r="4.4" fill="#000" stroke="#000" stroke-width="0.6"/>
<circle cx="316.86" cy="547.98" r="4.4" fill="#000" stroke="#000" stroke-width="0.6"/>
<circle cx="319.72" cy="548.39" r="4.4" fill="#000" stroke="#000" stroke-width="0.6"/>
<circle cx="322.57" cy="550.03" r="4.4" fill="#000" stroke="#000" stroke-width="0.6"/>
<circle cx="325.43" cy="550.91" r="4.4" fill="#000" stroke="#000" stroke-width="0.6"/>
<circle cx="328.28" cy="549.64" r="4.4" fill="#000" stroke="#000" stroke-width="0.6"/>
<circle cx="331.14" cy="552.53" r="4.4" fill="#000" stroke="#000" stroke-width="0.6"/>
<circle cx="334.00" cy="552.96" r="4.4" fill="#000" stroke="#000" stroke-width="0.6"/>
<circle cx="336.85" cy="554.63" r="4.4" fill="#000" stroke="#000" stroke-width="0.6"/>
<circle cx="339.71" cy="555.45" r="4.4" fill="#000" stroke="#000" stroke-width="0.6"/>
<circle cx="342.56" cy="554.74" r="4.4" fill="#000" stroke="#000" stroke-width="0.6"/>
<circle cx="345.42" cy="556.25" r="4.4" fill="#000" stroke="#000" stroke-width="0.6"/>
<circle cx="348.28" cy="556.30" r="4.4" fill="#000" stroke="#000" stroke-width="0.6"/>
<circle cx="351.13" cy="555.13" r="4.4" fill="#000" stroke="#000" stroke-width="0.6"/>
<circle cx="353.99" cy="555.13" r="4.4" fill="#000" stroke="#000" stroke-width="0.6"/>
<circle cx="356.84" cy="554.66" r="4.4" fill="#000" stroke="#000" stroke-width="0.6"/>
<circle cx="359.70" cy="554.80" r="4.4" fill="#000" stroke="#000" stroke-width="0.6"/>
<circle cx="362.56" cy="556.50" r="4.4" fill="#000" stroke="#000" stroke-width="0.6"/>
<circle cx="365.41" cy="556.14" r="4.4" fill="#000" stroke="#000" stroke-width="0.6"/>
<circle cx="365.82" cy="556.75" r="4.4" fill="#000" stroke="#000" stroke-width="0.6"/>
<circle cx="367.18" cy="557.66" r="4.4" fill="#000" stroke="#000" stroke-width="0.6"/>
<circle cx="368.54" cy="561.41" r="4.4" fill="#000" stroke="#000" stroke-width="0.6"/>
<circle cx="369.90" cy="558.92" r="4.4" fill="#000" stroke="#000" stroke-width="0.6"/>
<circle cx="371.26" cy="567.95" r="4.4" fill="#000" stroke="#000" stroke-width="0.6"/>
<circle cx="372.62" cy="570.88" r="4.4" fill="#000" stroke="#000" stroke-width="0.6"/>
<circle cx="373.98" cy="575.68" r="4.4" fill="#000" stroke="#000" stroke-width="0.6"/>
<circle cx="375.34" cy="579.62" r="4.4" fill="#000" stroke="#000" stroke-width="0.6"/>
<circle cx="376.70" cy="582.84" r="4.4" fill="#000" stroke="#000" stroke-width="0.6"/>
<circle cx="378.06" cy="586.84" r="4.4" fill="#000" stroke="#000" stroke-width="0.6"/>
<circle cx="379.42" cy="588.62" r="4.4" fill="#000" stroke="#000" stroke-width="0.6"/>
<circle cx="380.78" cy="589.48" r="4.4" fill="#000" stroke="#000" stroke-width="0.6"/>
<circle cx="383.50" cy="589.11" r="4.4" fill="#000" stroke="#000" stroke-width="0.6"/>
<circle cx="386.36" cy="588.69" r="4.4" fill="#000" stroke="#000" stroke-width="0.6"/>
<circle cx="389.21" cy="589.85" r="4.4" fill="#000" stroke="#000" stroke-width="0.6"/>
<circle cx="392.07" cy="589.53" r="4.4" fill="#000" stroke="#000" stroke-width="0.6"/>
<circle cx="394.92" cy="589.20" r="4.4" fill="#000" stroke="#000" stroke-width="0.6"/>
<text x="408.12" y="398.50" font-size="35.32" fill="#000" textLength="24.52" lengthAdjust="spacingAndGlyphs">D</text>
<text x="505.65" y="429.90" font-size="12.94" fill="#000" textLength="24.69" lengthAdjust="spacingAndGlyphs">LTP</text>
<text x="592.51" y="429.50" font-size="12.32" fill="#000" textLength="91.84" lengthAdjust="spacingAndGlyphs">LTP + BRS-015</text>
<text x="438.10" y="443.30" font-size="9.60" fill="#000" textLength="42.87" lengthAdjust="spacingAndGlyphs">s.g. stim.</text>
<circle cx="467.00" cy="456.60" r="4.1" fill="#000" stroke="#000" stroke-width="0.5"/>
<circle cx="582.50" cy="455.50" r="4.1" fill="#000" stroke="#000" stroke-width="0.5"/>
<polyline points="512.60,459.90 514.80,462.00 516.80,466.90 518.40,472.00 519.60,476.00 521.00,475.40 522.80,473.20 524.50,465.00 526.60,455.70 528.30,455.80 530.00,456.80 533.00,455.00 537.00,453.60 545.00,453.30 552.00,454.30 559.40,454.00" fill="none" stroke="#222" stroke-width="0.9" stroke-linejoin="round"/>
<polyline points="475.60,456.80 493.70,456.80 494.60,458.50 495.10,482.30 495.60,458.00 496.40,433.70 497.40,444.00 498.40,456.00 500.00,458.20 502.50,456.50 504.90,455.00 506.20,457.50 507.40,459.90 509.00,459.00 510.50,458.80 512.60,459.90 514.50,464.00 516.50,474.00 518.30,486.00 519.20,493.20 520.80,487.00 523.00,474.00 524.50,464.00 525.90,457.10 527.50,453.80 528.70,452.20 531.00,451.20 534.20,450.80 540.00,450.30 546.80,450.10 550.00,450.60 553.80,451.50 556.00,452.40 559.40,452.90" fill="none" stroke="#000" stroke-width="2.0" stroke-linejoin="round"/>
<line x1="504.20" y1="476.40" x2="538.40" y2="476.40" stroke="#555" stroke-width="0.9" stroke-linecap="butt" stroke-dasharray="4.2,3.6"/>
<line x1="504.20" y1="493.20" x2="538.40" y2="493.20" stroke="#000" stroke-width="1.7" stroke-linecap="butt" stroke-dasharray="7.7,5.5"/>
<polyline points="592.70,457.60 610.60,457.60 611.50,459.00 612.10,477.70 612.80,458.00 613.70,433.20 614.80,446.00 616.10,459.30 617.60,457.20 619.20,456.00 620.80,457.60 622.20,459.60 623.60,457.60 625.10,456.60 626.70,459.60 628.40,461.60 630.70,467.00 633.50,479.90 635.50,489.00 636.60,491.80 637.80,489.00 639.90,479.90 642.60,459.80 644.20,455.50 646.30,453.40 652.00,452.60 658.20,452.10 665.50,451.50 669.00,451.80 672.80,452.40 676.50,453.40" fill="none" stroke="#000" stroke-width="2.0" stroke-linejoin="round"/>
<line x1="674.60" y1="483.50" x2="674.60" y2="503.40" stroke="#000" stroke-width="2.4" stroke-linecap="butt"/>
<line x1="654.20" y1="502.10" x2="675.80" y2="502.10" stroke="#000" stroke-width="2.8" stroke-linecap="butt"/>
<text x="678.79" y="491.80" font-size="10.46" fill="#000" textLength="33.46" lengthAdjust="spacingAndGlyphs">0.2 mV</text>
<text x="678.78" y="504.60" font-size="10.61" fill="#000">5 ms</text>
<text x="522.78" y="540.90" font-size="12.41" fill="#000" textLength="84.88" lengthAdjust="spacingAndGlyphs">Unconditioned</text>
<text x="438.51" y="559.20" font-size="9.60" fill="#000" textLength="51.04" lengthAdjust="spacingAndGlyphs">s.rad. stim.</text>
<circle cx="466.80" cy="569.90" r="4.0" fill="#fff" stroke="#000" stroke-width="1.0"/>
<circle cx="582.90" cy="569.20" r="4.0" fill="#fff" stroke="#000" stroke-width="1.0"/>
<line x1="494.30" y1="570.00" x2="494.30" y2="581.80" stroke="#000" stroke-width="1.2" stroke-linecap="butt"/>
<line x1="496.50" y1="570.00" x2="496.50" y2="581.80" stroke="#000" stroke-width="1.2" stroke-linecap="butt"/>
<polyline points="475.90,570.40 494.30,570.40" fill="none" stroke="#000" stroke-width="2.0" stroke-linejoin="round"/>
<polyline points="496.50,570.40 497.00,565.00 497.90,549.50 498.70,556.00 499.30,563.70 501.00,566.50 502.40,572.10 503.80,584.40 505.60,577.70 507.00,576.60 509.80,579.80 511.60,581.90 513.00,591.00 514.00,590.00 514.90,593.50 516.80,598.70 518.90,592.40 521.70,581.90 525.20,573.50 528.70,570.40 532.80,569.30 540.00,569.80 550.00,569.40 559.40,569.60" fill="none" stroke="#000" stroke-width="2.0" stroke-linejoin="round"/>
<polyline points="511.60,581.90 513.20,588.00 514.60,589.50 516.30,595.50 517.00,598.00" fill="none" stroke="#000" stroke-width="0.9" stroke-linejoin="round"/>
<line x1="502.10" y1="600.30" x2="536.30" y2="600.30" stroke="#000" stroke-width="1.7" stroke-linecap="butt" stroke-dasharray="7.7,5.6"/>
<line x1="611.20" y1="568.50" x2="611.20" y2="579.60" stroke="#000" stroke-width="1.2" stroke-linecap="butt"/>
<line x1="613.10" y1="568.50" x2="613.10" y2="579.60" stroke="#000" stroke-width="1.2" stroke-linecap="butt"/>
<polyline points="592.70,568.90 611.20,568.90" fill="none" stroke="#000" stroke-width="2.0" stroke-linejoin="round"/>
<polyline points="613.10,568.90 613.60,560.00 614.60,549.80 615.20,556.00 615.70,562.30 617.80,565.10 619.20,573.50 620.60,580.50 622.40,572.40 624.80,575.60 628.30,580.50 631.10,584.70 632.50,588.90 633.20,599.40 634.20,595.90 636.00,584.70 639.50,576.30 643.70,569.60 646.50,568.90 660.00,568.40 676.50,567.90" fill="none" stroke="#000" stroke-width="2.0" stroke-linejoin="round"/>
<text x="3.21" y="672.30" font-size="35.61" fill="#000" textLength="21.91" lengthAdjust="spacingAndGlyphs">E</text>
<text x="32.50" y="692.80" font-size="10.20" fill="#000" textLength="42.15" lengthAdjust="spacingAndGlyphs">s.g. stim.</text>
<circle cx="54.50" cy="703.10" r="4.3" fill="#000" stroke="#000" stroke-width="0.5"/>
<text x="110.62" y="684.80" font-size="12.06" fill="#000" textLength="25.68" lengthAdjust="spacingAndGlyphs">PTP</text>
<polyline points="64.80,702.90 66.40,703.63 68.00,701.90 69.60,702.63 71.20,702.25 72.80,702.12 74.40,702.35 76.00,702.73 77.60,702.85 79.20,703.19 80.80,702.91 82.40,703.54 84.00,702.39 85.60,704.01 87.20,701.97 88.80,703.51 90.40,702.90 92.00,703.24 93.60,702.24 95.20,702.38 96.80,703.82 98.40,704.22 100.00,702.65" fill="none" stroke="#000" stroke-width="1.3" stroke-linejoin="round"/>
<polyline points="112.30,705.60 113.40,723.50 114.50,734.10 115.60,734.70 117.30,732.50 119.60,723.50 122.30,717.40 125.10,710.70 128.50,704.00 132.40,702.80 136.90,700.30 142.50,700.60 150.30,701.70 158.10,702.10 165.00,703.20 172.60,704.30" fill="none" stroke="#000" stroke-width="1.0" stroke-linejoin="round"/>
<polyline points="104.70,710.10 106.70,694.50 108.40,709.00 110.10,705.10 112.30,705.60 113.40,723.50 113.60,752.00 115.10,751.50 117.90,748.70 120.10,743.60 122.30,734.70 124.00,722.40 126.30,714.60 129.10,707.90 132.40,705.10 134.60,702.80 136.20,701.50 138.00,700.10 139.50,700.80 141.30,698.90 143.00,699.50 144.70,697.30 147.00,698.50 149.20,698.40 151.00,697.60 152.50,698.40 155.90,700.60 157.50,699.00 159.20,698.40 161.00,699.20 162.60,700.10 165.00,699.00 168.20,699.50 170.50,700.20 172.60,701.20" fill="none" stroke="#000" stroke-width="1.9" stroke-linejoin="round"/>
<path d="M122.30,721.30 L132.18,723.78 L128.41,729.45 Z" fill="#000"/>
<line x1="140.80" y1="733.60" x2="130.29" y2="726.62" stroke="#000" stroke-width="1.0" stroke-linecap="butt"/>
<path d="M121.80,740.30 L131.49,743.42 L127.37,748.83 Z" fill="#000"/>
<line x1="140.80" y1="754.80" x2="129.43" y2="746.12" stroke="#000" stroke-width="1.0" stroke-linecap="butt"/>
<text x="142.95" y="740.00" font-size="10.07" fill="#000" textLength="39.70" lengthAdjust="spacingAndGlyphs">Baseline</text>
<text x="142.94" y="759.40" font-size="10.46" fill="#000">HFS</text>
<text x="164.30" y="762.60" font-size="5.6" fill="#000">1</text>
<text x="218.34" y="684.70" font-size="11.63" fill="#000" textLength="54.68" lengthAdjust="spacingAndGlyphs">Recovery</text>
<polyline points="188.00,703.80 189.60,702.48 191.20,704.16 192.80,703.79 194.40,703.75 196.00,703.46 197.60,703.05 199.20,704.38 200.80,703.36 202.40,703.25 204.00,704.39 205.60,704.09 207.20,702.83 208.80,704.04 210.40,702.99 212.00,704.91 213.60,705.13 215.20,703.98 216.80,705.11 218.40,702.65 220.00,704.02 221.60,702.61 223.20,703.77 224.80,702.71" fill="none" stroke="#000" stroke-width="1.8" stroke-linejoin="round"/>
<polyline points="229.90,694.30 231.60,710.20 232.80,706.00 235.30,709.40 237.30,727.00 238.60,736.20 240.30,738.70 242.00,733.70 242.80,727.80 244.50,727.00 247.80,720.30 251.20,710.20 253.70,701.80 255.40,705.20 258.70,701.80 260.50,703.16 262.10,703.75 263.70,702.50 265.30,703.29 266.90,704.60 268.50,704.70 270.10,702.32 271.70,702.67 273.30,702.26 274.90,703.59 276.50,702.36 278.10,703.81 279.70,704.52 281.30,703.42 282.90,704.78 284.50,704.59 286.10,702.86 287.70,704.66 289.30,703.79 290.90,704.37 292.50,704.04 294.10,705.44" fill="none" stroke="#000" stroke-width="1.8" stroke-linejoin="round"/>
<path d="M246.70,724.00 L256.74,725.74 L253.41,731.66 Z" fill="#000"/>
<line x1="265.40" y1="734.50" x2="255.07" y2="728.70" stroke="#000" stroke-width="1.0" stroke-linecap="butt"/>
<text x="266.57" y="739.90" font-size="10.21" fill="#000" textLength="26.13" lengthAdjust="spacingAndGlyphs">5 min</text>
<text x="266.63" y="752.70" font-size="10.60" fill="#000" textLength="43.15" lengthAdjust="spacingAndGlyphs">post HFS</text>
<text x="310.50" y="756.80" font-size="6.5" fill="#000">1</text>
<text x="339.42" y="684.20" font-size="11.17" fill="#f00" textLength="53.63" lengthAdjust="spacingAndGlyphs">BRS-015</text>
<polyline points="308.40,704.68 310.00,703.17 311.60,704.70 313.20,703.77 314.80,703.71 316.40,701.98 318.00,704.71 319.60,701.22 321.20,702.11 322.80,702.77 324.40,704.01 326.00,701.91 327.60,704.31 329.20,704.74 330.80,701.79 332.40,703.35 334.00,701.23 335.60,702.59 337.20,701.36 338.80,704.64 340.40,702.77 342.00,704.62 343.60,704.03 345.20,704.32" fill="none" stroke="#00f" stroke-width="1.2" stroke-linejoin="round"/>
<polyline points="349.00,707.00 350.60,696.00 352.30,709.00 353.90,705.00 355.60,709.00 357.00,718.60 358.30,730.30 362.00,730.00 364.50,725.30 368.70,713.60 372.00,706.00 375.40,703.20 377.50,701.50 379.10,703.91 380.70,701.60 382.30,704.24 383.90,702.77 385.50,703.29 387.10,703.93 388.70,703.11 390.30,702.39 391.90,702.08 393.50,701.77 395.10,704.22 396.70,703.23 398.30,702.29 399.90,704.96 401.50,702.86 403.10,703.44 404.70,703.09 406.30,704.37 407.90,704.27 409.50,704.42 411.10,703.30 412.70,703.44 414.30,703.41 415.90,703.75" fill="none" stroke="#00f" stroke-width="1.2" stroke-linejoin="round"/>
<polyline points="308.40,704.56 310.00,702.76 311.60,704.33 313.20,701.83 314.80,702.04 316.40,703.60 318.00,703.40 319.60,703.04 321.20,702.77 322.80,703.69 324.40,703.10 326.00,704.05 327.60,703.36 329.20,703.55 330.80,703.77 332.40,704.87 334.00,704.32 335.60,703.02 337.20,704.50 338.80,704.34 340.40,701.87 342.00,704.00 343.60,704.27 345.20,704.06" fill="none" stroke="#f00" stroke-width="1.5" stroke-linejoin="round"/>
<polyline points="348.90,711.90 350.60,694.80 352.30,709.40 353.90,705.20 355.60,709.40 357.00,728.70 358.30,750.40 359.50,745.40 361.10,746.30 362.80,737.00 364.50,736.20 367.00,725.30 370.40,716.90 373.70,711.10 375.50,712.00 377.10,708.50 378.70,704.40 382.10,702.70 384.00,700.64 385.60,702.85 387.20,701.70 388.80,702.57 390.40,703.33 392.00,701.88 393.60,701.71 395.20,700.28 396.80,700.86 398.40,701.56 400.00,702.08 401.60,702.43 403.20,701.03 404.80,699.97 406.40,700.63 408.00,702.57 409.60,700.29 411.20,701.01 412.80,702.49 414.40,699.54 416.00,701.33" fill="none" stroke="#f00" stroke-width="1.5" stroke-linejoin="round"/>
<path d="M362.80,730.00 L372.62,732.70 L368.73,738.28 Z" fill="#00f"/>
<line x1="381.30" y1="742.90" x2="370.67" y2="735.49" stroke="#00f" stroke-width="1.0" stroke-linecap="butt"/>
<text x="382.92" y="740.00" font-size="9.38" fill="#00f" textLength="23.62" lengthAdjust="spacingAndGlyphs">Stim.</text>
<text x="382.72" y="753.00" font-size="9.80" fill="#00f" textLength="22.96" lengthAdjust="spacingAndGlyphs">reset</text>
<text x="473.72" y="685.10" font-size="12.79" fill="#000" textLength="25.34" lengthAdjust="spacingAndGlyphs">LTP</text>
<polyline points="431.30,704.62 432.90,704.98 434.50,704.60 436.10,703.32 437.70,702.18 439.30,701.34 440.90,702.94 442.50,702.83 444.10,703.29 445.70,703.12 447.30,703.41 448.90,703.36 450.50,704.19 452.10,704.01 453.70,703.65 455.30,702.92 456.90,702.40 458.50,705.00 460.10,702.57 461.70,702.13 463.30,701.55 464.90,705.03 466.50,701.79 468.10,702.52" fill="none" stroke="#000" stroke-width="1.8" stroke-linejoin="round"/>
<polyline points="471.50,709.10 473.50,695.00 475.40,707.20 477.40,705.60 478.80,706.20 480.70,761.90 482.70,762.90 484.60,757.00 486.60,756.00 490.50,736.50 493.40,716.00 495.40,714.00 497.00,709.10 498.90,710.10 500.90,703.20 503.20,699.30 507.10,697.40 509.00,696.93 510.60,698.60 512.20,698.68 513.80,697.62 515.40,697.75 517.00,698.09 518.60,698.83 520.20,698.38 521.80,697.95 523.40,698.89 525.00,698.41 526.60,700.79 528.20,701.12 529.80,698.30 531.40,700.51 533.00,700.20 534.60,701.34 536.20,700.70 537.80,700.42" fill="none" stroke="#000" stroke-width="1.8" stroke-linejoin="round"/>
<path d="M492.30,731.00 L502.12,733.72 L498.22,739.29 Z" fill="#000"/>
<line x1="511.60" y1="744.50" x2="500.17" y2="736.50" stroke="#000" stroke-width="1.0" stroke-linecap="butt"/>
<text x="512.19" y="740.00" font-size="10.07" fill="#000" textLength="31.80" lengthAdjust="spacingAndGlyphs">15 min</text>
<text x="512.34" y="753.10" font-size="10.46" fill="#000" textLength="42.12" lengthAdjust="spacingAndGlyphs">post HFS</text>
<text x="554.80" y="756.80" font-size="6.5" fill="#000">2</text>
<text x="585.02" y="685.00" font-size="12.32" fill="#000" textLength="46.04" lengthAdjust="spacingAndGlyphs">DCG-IV</text>
<polyline points="553.40,699.90 555.70,705.30 559.30,702.20 563.00,701.50 567.70,700.60 571.30,703.90 574.00,702.00 578.40,703.00 582.00,705.30 585.60,701.00 589.20,702.20 590.90,700.60" fill="none" stroke="#000" stroke-width="1.8" stroke-linejoin="round"/>
<polyline points="593.20,709.40 595.20,693.40 597.10,705.80 599.50,701.00 601.80,707.00 603.50,713.50 606.60,713.50 608.30,703.40 610.70,701.00 613.00,698.00 615.50,695.80 618.00,697.50 621.40,696.30 624.00,695.00 626.00,696.50 628.60,693.90 631.00,696.00 634.60,696.30 638.00,699.00 641.70,702.20 644.00,700.00 647.70,701.00 650.00,703.00 652.50,705.80 655.00,702.50 657.30,703.40 659.00,705.00 661.30,706.30" fill="none" stroke="#000" stroke-width="1.8" stroke-linejoin="round"/>
<line x1="665.90" y1="719.00" x2="665.90" y2="746.80" stroke="#000" stroke-width="2.4" stroke-linecap="butt"/>
<line x1="639.80" y1="745.50" x2="667.10" y2="745.50" stroke="#000" stroke-width="2.8" stroke-linecap="butt"/>
<text x="669.99" y="729.20" font-size="9.74" fill="#000" textLength="33.16" lengthAdjust="spacingAndGlyphs">0.2 mV</text>
<text x="669.98" y="742.80" font-size="9.88" fill="#000" textLength="23.01" lengthAdjust="spacingAndGlyphs">5 ms</text>
<text x="3.18" y="802.70" font-size="35.76" fill="#000" textLength="20.24" lengthAdjust="spacingAndGlyphs">F</text>
<circle cx="172.10" cy="800.50" r="4.3" fill="#000" stroke="#000" stroke-width="0.5"/>
<circle cx="172.10" cy="813.10" r="4.1" fill="#fff" stroke="#000" stroke-width="1.1"/>
<text x="185.72" y="803.20" font-size="9.40" fill="#000" textLength="43.20" lengthAdjust="spacingAndGlyphs">s. g. stim.</text>
<text x="183.12" y="815.70" font-size="9.40" fill="#000" textLength="51.89" lengthAdjust="spacingAndGlyphs">s. rad. stim.</text>
<line x1="158.90" y1="830.70" x2="158.90" y2="994.00" stroke="#000" stroke-width="1.6" stroke-linecap="butt"/>
<line x1="152.50" y1="947.00" x2="158.90" y2="947.00" stroke="#000" stroke-width="1.5" stroke-linecap="butt"/>
<line x1="152.50" y1="889.13" x2="158.90" y2="889.13" stroke="#000" stroke-width="1.5" stroke-linecap="butt"/>
<line x1="152.50" y1="831.26" x2="158.90" y2="831.26" stroke="#000" stroke-width="1.5" stroke-linecap="butt"/>
<line x1="155.50" y1="975.93" x2="158.90" y2="975.93" stroke="#000" stroke-width="1.5" stroke-linecap="butt"/>
<line x1="155.50" y1="918.07" x2="158.90" y2="918.07" stroke="#000" stroke-width="1.5" stroke-linecap="butt"/>
<line x1="155.50" y1="860.20" x2="158.90" y2="860.20" stroke="#000" stroke-width="1.5" stroke-linecap="butt"/>
<line x1="162.80" y1="993.30" x2="563.50" y2="993.30" stroke="#000" stroke-width="1.6" stroke-linecap="butt"/>
<line x1="169.10" y1="993.30" x2="169.10" y2="999.60" stroke="#000" stroke-width="1.5" stroke-linecap="butt"/>
<line x1="230.55" y1="993.30" x2="230.55" y2="999.60" stroke="#000" stroke-width="1.5" stroke-linecap="butt"/>
<line x1="292.00" y1="993.30" x2="292.00" y2="999.60" stroke="#000" stroke-width="1.5" stroke-linecap="butt"/>
<line x1="353.45" y1="993.30" x2="353.45" y2="999.60" stroke="#000" stroke-width="1.5" stroke-linecap="butt"/>
<line x1="414.90" y1="993.30" x2="414.90" y2="999.60" stroke="#000" stroke-width="1.5" stroke-linecap="butt"/>
<line x1="476.35" y1="993.30" x2="476.35" y2="999.60" stroke="#000" stroke-width="1.5" stroke-linecap="butt"/>
<line x1="537.80" y1="993.30" x2="537.80" y2="999.60" stroke="#000" stroke-width="1.5" stroke-linecap="butt"/>
<line x1="199.82" y1="993.30" x2="199.82" y2="996.40" stroke="#000" stroke-width="1.5" stroke-linecap="butt"/>
<line x1="261.27" y1="993.30" x2="261.27" y2="996.40" stroke="#000" stroke-width="1.5" stroke-linecap="butt"/>
<line x1="322.73" y1="993.30" x2="322.73" y2="996.40" stroke="#000" stroke-width="1.5" stroke-linecap="butt"/>
<line x1="384.17" y1="993.30" x2="384.17" y2="996.40" stroke="#000" stroke-width="1.5" stroke-linecap="butt"/>
<line x1="445.62" y1="993.30" x2="445.62" y2="996.40" stroke="#000" stroke-width="1.5" stroke-linecap="butt"/>
<line x1="507.07" y1="993.30" x2="507.07" y2="996.40" stroke="#000" stroke-width="1.5" stroke-linecap="butt"/>
<text x="127.72" y="835.26" font-size="11.17" fill="#222" textLength="21.29" lengthAdjust="spacingAndGlyphs">300</text>
<text x="127.56" y="893.13" font-size="11.17" fill="#222" textLength="21.45" lengthAdjust="spacingAndGlyphs">200</text>
<text x="127.21" y="951.00" font-size="11.17" fill="#222" textLength="21.81" lengthAdjust="spacingAndGlyphs">100</text>
<text x="165.64" y="1012.90" font-size="12.61" fill="#222" textLength="6.52" lengthAdjust="spacingAndGlyphs">0</text>
<text x="222.92" y="1012.90" font-size="12.61" fill="#222" textLength="14.39" lengthAdjust="spacingAndGlyphs">10</text>
<text x="284.72" y="1012.90" font-size="12.61" fill="#222">20</text>
<text x="346.33" y="1012.90" font-size="12.61" fill="#222" textLength="13.86" lengthAdjust="spacingAndGlyphs">30</text>
<text x="407.97" y="1012.90" font-size="12.61" fill="#222" textLength="13.67" lengthAdjust="spacingAndGlyphs">40</text>
<text x="469.20" y="1012.90" font-size="12.61" fill="#222">50</text>
<text x="530.51" y="1012.90" font-size="12.61" fill="#222">60</text>
<text x="325.65" y="1036.70" font-size="15.72" fill="#000" class="th">Time (min)</text>
<text x="0" y="0" font-size="16.55" fill="#000" class="th" textLength="194.15" lengthAdjust="spacingAndGlyphs" transform="translate(121.00,999.69) rotate(-90)">Norm. amplitude fEPSP (%)</text>
<rect x="275.20" y="846.50" width="121.60" height="6.50" fill="#f00"/>
<text x="299.29" y="842.80" font-size="16.05" fill="#000" class="th">BRS-015</text>
<rect x="501.60" y="877.60" width="57.30" height="6.80" fill="#888"/>
<text x="501.71" y="873.30" font-size="15.76" fill="#000" class="th">DCG-IV</text>
<path d="M220.80,970.50 L223.40,962.10 L226.00,970.50 Z" fill="#000"/>
<line x1="223.40" y1="969.50" x2="223.40" y2="978.90" stroke="#000" stroke-width="1.5" stroke-linecap="butt"/>
<path d="M343.40,970.50 L346.00,962.10 L348.60,970.50 Z" fill="#00f"/>
<line x1="346.00" y1="969.50" x2="346.00" y2="978.90" stroke="#00f" stroke-width="1.5" stroke-linecap="butt"/>
<path d="M399.00,970.50 L401.60,962.10 L404.20,970.50 Z" fill="#000"/>
<line x1="401.60" y1="969.50" x2="401.60" y2="978.90" stroke="#000" stroke-width="1.5" stroke-linecap="butt"/>
<text x="230.87" y="978.00" font-size="10.17" fill="#000" textLength="22.76" lengthAdjust="spacingAndGlyphs">HFS</text>
<text x="253.90" y="982.20" font-size="6.4" fill="#000">1</text>
<text x="406.87" y="978.00" font-size="10.17" fill="#000" textLength="22.76" lengthAdjust="spacingAndGlyphs">HFS</text>
<text x="429.90" y="982.20" font-size="6.4" fill="#000">2</text>
<path d="M169.10,939.48V951.53M165.50,939.48H172.70M165.50,951.53H172.70M171.56,940.66V947.13M167.96,940.66H175.16M167.96,947.13H175.16M174.02,941.72V953.30M170.42,941.72H177.62M170.42,953.30H177.62M176.47,944.71V950.71M172.87,944.71H180.07M172.87,950.71H180.07M178.93,942.16V952.82M175.33,942.16H182.53M175.33,952.82H182.53M181.39,946.06V957.28M177.79,946.06H184.99M177.79,957.28H184.99M183.85,945.96V951.63M180.25,945.96H187.45M180.25,951.63H187.45M186.31,945.52V953.31M182.71,945.52H189.91M182.71,953.31H189.91M188.76,944.75V954.77M185.16,944.75H192.36M185.16,954.77H192.36M191.22,942.52V950.09M187.62,942.52H194.82M187.62,950.09H194.82M193.68,944.99V950.05M190.08,944.99H197.28M190.08,950.05H197.28M196.14,937.24V947.81M192.54,937.24H199.74M192.54,947.81H199.74M198.60,938.65V946.90M195.00,938.65H202.20M195.00,946.90H202.20M201.05,948.66V954.40M197.45,948.66H204.65M197.45,954.40H204.65M203.51,943.96V948.59M199.91,943.96H207.11M199.91,948.59H207.11M205.97,944.87V953.48M202.37,944.87H209.57M202.37,953.48H209.57M208.43,941.74V948.44M204.83,941.74H212.03M204.83,948.44H212.03M210.89,940.53V951.66M207.29,940.53H214.49M207.29,951.66H214.49M213.34,941.26V946.85M209.74,941.26H216.94M209.74,946.85H216.94M215.80,943.44V947.84M212.20,943.44H219.40M212.20,947.84H219.40M218.26,938.43V950.45M214.66,938.43H221.86M214.66,950.45H221.86M220.72,946.05V953.90M217.12,946.05H224.32M217.12,953.90H224.32M223.18,951.43V963.04M219.58,951.43H226.78M219.58,963.04H226.78M225.63,950.27V959.47M222.03,950.27H229.23M222.03,959.47H229.23M228.09,949.13V961.05M224.49,949.13H231.69M224.49,961.05H231.69M230.55,949.00V961.44M226.95,949.00H234.15M226.95,961.44H234.15M233.01,954.36V959.42M229.41,954.36H236.61M229.41,959.42H236.61M235.47,946.92V953.69M231.87,946.92H239.07M231.87,953.69H239.07M237.92,952.33V958.28M234.32,952.33H241.52M234.32,958.28H241.52M240.38,945.44V958.17M236.78,945.44H243.98M236.78,958.17H243.98M242.84,951.14V961.60M239.24,951.14H246.44M239.24,961.60H246.44M245.30,945.23V957.75M241.70,945.23H248.90M241.70,957.75H248.90M247.76,952.69V965.77M244.16,952.69H251.36M244.16,965.77H251.36M250.21,948.68V960.08M246.61,948.68H253.81M246.61,960.08H253.81M252.67,952.68V964.84M249.07,952.68H256.27M249.07,964.84H256.27M255.13,947.11V959.89M251.53,947.11H258.73M251.53,959.89H258.73M257.59,944.95V954.81M253.99,944.95H261.19M253.99,954.81H261.19M260.05,951.74V963.50M256.45,951.74H263.65M256.45,963.50H263.65M262.50,948.31V961.48M258.90,948.31H266.10M258.90,961.48H266.10M264.96,946.90V955.60M261.36,946.90H268.56M261.36,955.60H268.56M267.42,948.41V954.84M263.82,948.41H271.02M263.82,954.84H271.02M269.88,948.72V959.21M266.28,948.72H273.48M266.28,959.21H273.48M272.34,944.14V949.15M268.74,944.14H275.94M268.74,949.15H275.94M274.79,945.13V952.44M271.19,945.13H278.39M271.19,952.44H278.39M277.25,941.52V949.47M273.65,941.52H280.85M273.65,949.47H280.85M279.71,942.28V954.13M276.11,942.28H283.31M276.11,954.13H283.31M282.17,949.83V954.60M278.57,949.83H285.77M278.57,954.60H285.77M284.63,946.88V954.38M281.03,946.88H288.23M281.03,954.38H288.23M287.08,942.26V949.64M283.48,942.26H290.68M283.48,949.64H290.68M289.54,948.00V958.66M285.94,948.00H293.14M285.94,958.66H293.14M292.00,944.78V957.43M288.40,944.78H295.60M288.40,957.43H295.60M294.46,943.29V952.33M290.86,943.29H298.06M290.86,952.33H298.06M296.92,940.00V952.42M293.32,940.00H300.52M293.32,952.42H300.52M299.37,941.91V950.45M295.77,941.91H302.97M295.77,950.45H302.97M301.83,947.00V956.30M298.23,947.00H305.43M298.23,956.30H305.43M304.29,938.04V945.68M300.69,938.04H307.89M300.69,945.68H307.89M306.75,943.95V950.44M303.15,943.95H310.35M303.15,950.44H310.35M309.21,939.72V952.72M305.61,939.72H312.81M305.61,952.72H312.81M311.66,940.57V950.90M308.06,940.57H315.26M308.06,950.90H315.26M314.12,942.20V949.42M310.52,942.20H317.72M310.52,949.42H317.72M316.58,942.31V952.09M312.98,942.31H320.18M312.98,952.09H320.18M319.04,940.57V949.11M315.44,940.57H322.64M315.44,949.11H322.64M321.50,937.31V942.39M317.90,937.31H325.10M317.90,942.39H325.10M323.95,940.48V951.82M320.35,940.48H327.55M320.35,951.82H327.55M326.41,941.74V954.74M322.81,941.74H330.01M322.81,954.74H330.01M328.87,934.54V945.10M325.27,934.54H332.47M325.27,945.10H332.47M331.33,937.24V943.42M327.73,937.24H334.93M327.73,943.42H334.93M333.79,934.92V943.72M330.19,934.92H337.39M330.19,943.72H337.39M336.24,933.34V940.09M332.64,933.34H339.84M332.64,940.09H339.84M338.70,939.88V946.32M335.10,939.88H342.30M335.10,946.32H342.30M341.16,936.93V944.58M337.56,936.93H344.76M337.56,944.58H344.76M343.62,933.94V947.41M340.02,933.94H347.22M340.02,947.41H347.22M346.08,933.05V946.05M342.48,933.05H349.68M342.48,946.05H349.68M348.53,934.58V947.13M344.93,934.58H352.13M344.93,947.13H352.13M350.99,939.55V953.44M347.39,939.55H354.59M347.39,953.44H354.59M353.45,945.70V951.62M349.85,945.70H357.05M349.85,951.62H357.05M355.91,943.04V950.06M352.31,943.04H359.51M352.31,950.06H359.51M358.37,948.16V953.47M354.77,948.16H361.97M354.77,953.47H361.97M360.82,941.46V946.41M357.22,941.46H364.42M357.22,946.41H364.42M363.28,941.90V953.12M359.68,941.90H366.88M359.68,953.12H366.88M365.74,942.58V951.53M362.14,942.58H369.34M362.14,951.53H369.34M368.20,942.84V953.36M364.60,942.84H371.80M364.60,953.36H371.80M370.66,934.70V948.24M367.06,934.70H374.26M367.06,948.24H374.26M373.11,940.44V948.24M369.51,940.44H376.71M369.51,948.24H376.71M375.57,942.12V949.52M371.97,942.12H379.17M371.97,949.52H379.17M378.03,936.22V949.38M374.43,936.22H381.63M374.43,949.38H381.63M380.49,941.65V946.89M376.89,941.65H384.09M376.89,946.89H384.09M382.95,935.02V949.29M379.35,935.02H386.55M379.35,949.29H386.55M385.40,935.71V944.20M381.80,935.71H389.00M381.80,944.20H389.00M387.86,941.12V946.48M384.26,941.12H391.46M384.26,946.48H391.46M390.32,937.89V945.11M386.72,937.89H393.92M386.72,945.11H393.92M392.78,938.38V944.24M389.18,938.38H396.38M389.18,944.24H396.38M395.24,932.52V946.12M391.64,932.52H398.84M391.64,946.12H398.84M397.69,937.64V943.27M394.09,937.64H401.29M394.09,943.27H401.29M400.15,938.83V944.45M396.55,938.83H403.75M396.55,944.45H403.75M402.61,937.44V948.79M399.01,937.44H406.21M399.01,948.79H406.21M405.07,936.78V944.02M401.47,936.78H408.67M401.47,944.02H408.67M407.53,939.35V947.88M403.93,939.35H411.13M403.93,947.88H411.13M409.98,932.32V945.50M406.38,932.32H413.58M406.38,945.50H413.58M412.44,935.43V944.93M408.84,935.43H416.04M408.84,944.93H416.04M414.90,932.30V944.95M411.30,932.30H418.50M411.30,944.95H418.50M417.36,937.03V945.09M413.76,937.03H420.96M413.76,945.09H420.96M419.82,938.19V944.71M416.22,938.19H423.42M416.22,944.71H423.42M422.27,938.45V944.33M418.67,938.45H425.87M418.67,944.33H425.87M424.73,928.84V942.73M421.13,928.84H428.33M421.13,942.73H428.33M427.19,935.66V942.12M423.59,935.66H430.79M423.59,942.12H430.79M429.65,935.91V941.93M426.05,935.91H433.25M426.05,941.93H433.25M432.11,939.55V946.41M428.51,939.55H435.71M428.51,946.41H435.71M434.56,933.12V943.81M430.96,933.12H438.16M430.96,943.81H438.16M437.02,941.10V953.56M433.42,941.10H440.62M433.42,953.56H440.62M439.48,929.55V940.00M435.88,929.55H443.08M435.88,940.00H443.08M441.94,933.05V944.85M438.34,933.05H445.54M438.34,944.85H445.54M444.40,933.00V943.53M440.80,933.00H448.00M440.80,943.53H448.00M446.85,935.46V948.62M443.25,935.46H450.45M443.25,948.62H450.45M449.31,935.33V947.02M445.71,935.33H452.91M445.71,947.02H452.91M451.77,933.16V940.33M448.17,933.16H455.37M448.17,940.33H455.37M454.23,934.42V943.31M450.63,934.42H457.83M450.63,943.31H457.83M456.69,929.24V945.16M453.09,929.24H460.29M453.09,945.16H460.29M459.14,929.94V940.08M455.54,929.94H462.74M455.54,940.08H462.74M461.60,930.29V942.89M458.00,930.29H465.20M458.00,942.89H465.20M464.06,939.66V946.87M460.46,939.66H467.66M460.46,946.87H467.66M466.52,936.42V949.05M462.92,936.42H470.12M462.92,949.05H470.12M468.98,938.53V951.43M465.38,938.53H472.58M465.38,951.43H472.58M471.43,942.68V949.81M467.83,942.68H475.03M467.83,949.81H475.03M473.89,942.86V958.45M470.29,942.86H477.49M470.29,958.45H477.49M476.35,945.65V955.34M472.75,945.65H479.95M472.75,955.34H479.95M478.81,942.40V951.59M475.21,942.40H482.41M475.21,951.59H482.41M481.27,940.11V952.93M477.67,940.11H484.87M477.67,952.93H484.87M483.72,935.78V951.27M480.12,935.78H487.32M480.12,951.27H487.32M486.18,938.31V952.93M482.58,938.31H489.78M482.58,952.93H489.78M488.64,935.17V946.80M485.04,935.17H492.24M485.04,946.80H492.24M491.10,946.17V952.25M487.50,946.17H494.70M487.50,952.25H494.70M493.56,942.43V953.26M489.96,942.43H497.16M489.96,953.26H497.16M496.01,937.17V949.51M492.41,937.17H499.61M492.41,949.51H499.61M498.47,937.10V951.85M494.87,937.10H502.07M494.87,951.85H502.07M500.93,942.22V949.99M497.33,942.22H504.53M497.33,949.99H504.53M503.39,935.49V946.18M499.79,935.49H506.99M499.79,946.18H506.99M505.85,932.98V945.64M502.25,932.98H509.45M502.25,945.64H509.45M508.30,931.43V944.64M504.70,931.43H511.90M504.70,944.64H511.90M510.76,938.75V944.84M507.16,938.75H514.36M507.16,944.84H514.36M513.22,932.40V947.76M509.62,932.40H516.82M509.62,947.76H516.82M515.68,935.34V942.21M512.08,935.34H519.28M512.08,942.21H519.28M518.14,930.93V946.11M514.54,930.93H521.74M514.54,946.11H521.74M520.59,927.99V943.31M516.99,927.99H524.19M516.99,943.31H524.19M523.05,933.29V945.81M519.45,933.29H526.65M519.45,945.81H526.65M525.51,931.40V943.14M521.91,931.40H529.11M521.91,943.14H529.11M527.97,939.16V948.76M524.37,939.16H531.57M524.37,948.76H531.57M530.43,931.17V941.23M526.83,931.17H534.03M526.83,941.23H534.03M532.88,925.80V941.92M529.28,925.80H536.48M529.28,941.92H536.48M535.34,931.59V944.74M531.74,931.59H538.94M531.74,944.74H538.94M537.80,929.87V940.85M534.20,929.87H541.40M534.20,940.85H541.40M540.26,937.45V947.25M536.66,937.45H543.86M536.66,947.25H543.86M542.72,930.31V947.40M539.12,930.31H546.32M539.12,947.40H546.32M545.17,933.75V950.19M541.57,933.75H548.77M541.57,950.19H548.77M547.63,928.92V945.25M544.03,928.92H551.23M544.03,945.25H551.23M550.09,928.33V944.71M546.49,928.33H553.69M546.49,944.71H553.69M552.55,936.48V946.35M548.95,936.48H556.15M548.95,946.35H556.15M555.01,932.32V947.71M551.41,932.32H558.61M551.41,947.71H558.61M557.46,932.43V946.16M553.86,932.43H561.06M553.86,946.16H561.06" stroke="#000" stroke-width="1.4" fill="none"/>
<circle cx="169.10" cy="945.50" r="4.1" fill="#fff" stroke="#000" stroke-width="1.1"/>
<circle cx="171.56" cy="943.89" r="4.1" fill="#fff" stroke="#000" stroke-width="1.1"/>
<circle cx="174.02" cy="947.51" r="4.1" fill="#fff" stroke="#000" stroke-width="1.1"/>
<circle cx="176.47" cy="947.71" r="4.1" fill="#fff" stroke="#000" stroke-width="1.1"/>
<circle cx="178.93" cy="947.49" r="4.1" fill="#fff" stroke="#000" stroke-width="1.1"/>
<circle cx="181.39" cy="951.67" r="4.1" fill="#fff" stroke="#000" stroke-width="1.1"/>
<circle cx="183.85" cy="948.79" r="4.1" fill="#fff" stroke="#000" stroke-width="1.1"/>
<circle cx="186.31" cy="949.41" r="4.1" fill="#fff" stroke="#000" stroke-width="1.1"/>
<circle cx="188.76" cy="949.76" r="4.1" fill="#fff" stroke="#000" stroke-width="1.1"/>
<circle cx="191.22" cy="946.30" r="4.1" fill="#fff" stroke="#000" stroke-width="1.1"/>
<circle cx="193.68" cy="947.52" r="4.1" fill="#fff" stroke="#000" stroke-width="1.1"/>
<circle cx="196.14" cy="942.52" r="4.1" fill="#fff" stroke="#000" stroke-width="1.1"/>
<circle cx="198.60" cy="942.78" r="4.1" fill="#fff" stroke="#000" stroke-width="1.1"/>
<circle cx="201.05" cy="951.53" r="4.1" fill="#fff" stroke="#000" stroke-width="1.1"/>
<circle cx="203.51" cy="946.28" r="4.1" fill="#fff" stroke="#000" stroke-width="1.1"/>
<circle cx="205.97" cy="949.17" r="4.1" fill="#fff" stroke="#000" stroke-width="1.1"/>
<circle cx="208.43" cy="945.09" r="4.1" fill="#fff" stroke="#000" stroke-width="1.1"/>
<circle cx="210.89" cy="946.10" r="4.1" fill="#fff" stroke="#000" stroke-width="1.1"/>
<circle cx="213.34" cy="944.06" r="4.1" fill="#fff" stroke="#000" stroke-width="1.1"/>
<circle cx="215.80" cy="945.64" r="4.1" fill="#fff" stroke="#000" stroke-width="1.1"/>
<circle cx="218.26" cy="944.44" r="4.1" fill="#fff" stroke="#000" stroke-width="1.1"/>
<circle cx="220.72" cy="949.98" r="4.1" fill="#fff" stroke="#000" stroke-width="1.1"/>
<circle cx="223.18" cy="957.24" r="4.1" fill="#fff" stroke="#000" stroke-width="1.1"/>
<circle cx="225.63" cy="954.87" r="4.1" fill="#fff" stroke="#000" stroke-width="1.1"/>
<circle cx="228.09" cy="955.09" r="4.1" fill="#fff" stroke="#000" stroke-width="1.1"/>
<circle cx="230.55" cy="955.22" r="4.1" fill="#fff" stroke="#000" stroke-width="1.1"/>
<circle cx="233.01" cy="956.89" r="4.1" fill="#fff" stroke="#000" stroke-width="1.1"/>
<circle cx="235.47" cy="950.31" r="4.1" fill="#fff" stroke="#000" stroke-width="1.1"/>
<circle cx="237.92" cy="955.31" r="4.1" fill="#fff" stroke="#000" stroke-width="1.1"/>
<circle cx="240.38" cy="951.80" r="4.1" fill="#fff" stroke="#000" stroke-width="1.1"/>
<circle cx="242.84" cy="956.37" r="4.1" fill="#fff" stroke="#000" stroke-width="1.1"/>
<circle cx="245.30" cy="951.49" r="4.1" fill="#fff" stroke="#000" stroke-width="1.1"/>
<circle cx="247.76" cy="959.23" r="4.1" fill="#fff" stroke="#000" stroke-width="1.1"/>
<circle cx="250.21" cy="954.38" r="4.1" fill="#fff" stroke="#000" stroke-width="1.1"/>
<circle cx="252.67" cy="958.76" r="4.1" fill="#fff" stroke="#000" stroke-width="1.1"/>
<circle cx="255.13" cy="953.50" r="4.1" fill="#fff" stroke="#000" stroke-width="1.1"/>
<circle cx="257.59" cy="949.88" r="4.1" fill="#fff" stroke="#000" stroke-width="1.1"/>
<circle cx="260.05" cy="957.62" r="4.1" fill="#fff" stroke="#000" stroke-width="1.1"/>
<circle cx="262.50" cy="954.90" r="4.1" fill="#fff" stroke="#000" stroke-width="1.1"/>
<circle cx="264.96" cy="951.25" r="4.1" fill="#fff" stroke="#000" stroke-width="1.1"/>
<circle cx="267.42" cy="951.63" r="4.1" fill="#fff" stroke="#000" stroke-width="1.1"/>
<circle cx="269.88" cy="953.97" r="4.1" fill="#fff" stroke="#000" stroke-width="1.1"/>
<circle cx="272.34" cy="946.65" r="4.1" fill="#fff" stroke="#000" stroke-width="1.1"/>
<circle cx="274.79" cy="948.79" r="4.1" fill="#fff" stroke="#000" stroke-width="1.1"/>
<circle cx="277.25" cy="945.50" r="4.1" fill="#fff" stroke="#000" stroke-width="1.1"/>
<circle cx="279.71" cy="948.21" r="4.1" fill="#fff" stroke="#000" stroke-width="1.1"/>
<circle cx="282.17" cy="952.21" r="4.1" fill="#fff" stroke="#000" stroke-width="1.1"/>
<circle cx="284.63" cy="950.63" r="4.1" fill="#fff" stroke="#000" stroke-width="1.1"/>
<circle cx="287.08" cy="945.95" r="4.1" fill="#fff" stroke="#000" stroke-width="1.1"/>
<circle cx="289.54" cy="953.33" r="4.1" fill="#fff" stroke="#000" stroke-width="1.1"/>
<circle cx="292.00" cy="951.11" r="4.1" fill="#fff" stroke="#000" stroke-width="1.1"/>
<circle cx="294.46" cy="947.81" r="4.1" fill="#fff" stroke="#000" stroke-width="1.1"/>
<circle cx="296.92" cy="946.21" r="4.1" fill="#fff" stroke="#000" stroke-width="1.1"/>
<circle cx="299.37" cy="946.18" r="4.1" fill="#fff" stroke="#000" stroke-width="1.1"/>
<circle cx="301.83" cy="951.65" r="4.1" fill="#fff" stroke="#000" stroke-width="1.1"/>
<circle cx="304.29" cy="941.86" r="4.1" fill="#fff" stroke="#000" stroke-width="1.1"/>
<circle cx="306.75" cy="947.20" r="4.1" fill="#fff" stroke="#000" stroke-width="1.1"/>
<circle cx="309.21" cy="946.22" r="4.1" fill="#fff" stroke="#000" stroke-width="1.1"/>
<circle cx="311.66" cy="945.73" r="4.1" fill="#fff" stroke="#000" stroke-width="1.1"/>
<circle cx="314.12" cy="945.81" r="4.1" fill="#fff" stroke="#000" stroke-width="1.1"/>
<circle cx="316.58" cy="947.20" r="4.1" fill="#fff" stroke="#000" stroke-width="1.1"/>
<circle cx="319.04" cy="944.84" r="4.1" fill="#fff" stroke="#000" stroke-width="1.1"/>
<circle cx="321.50" cy="939.85" r="4.1" fill="#fff" stroke="#000" stroke-width="1.1"/>
<circle cx="323.95" cy="946.15" r="4.1" fill="#fff" stroke="#000" stroke-width="1.1"/>
<circle cx="326.41" cy="948.24" r="4.1" fill="#fff" stroke="#000" stroke-width="1.1"/>
<circle cx="328.87" cy="939.82" r="4.1" fill="#fff" stroke="#000" stroke-width="1.1"/>
<circle cx="331.33" cy="940.33" r="4.1" fill="#fff" stroke="#000" stroke-width="1.1"/>
<circle cx="333.79" cy="939.32" r="4.1" fill="#fff" stroke="#000" stroke-width="1.1"/>
<circle cx="336.24" cy="936.72" r="4.1" fill="#fff" stroke="#000" stroke-width="1.1"/>
<circle cx="338.70" cy="943.10" r="4.1" fill="#fff" stroke="#000" stroke-width="1.1"/>
<circle cx="341.16" cy="940.75" r="4.1" fill="#fff" stroke="#000" stroke-width="1.1"/>
<circle cx="343.62" cy="940.68" r="4.1" fill="#fff" stroke="#000" stroke-width="1.1"/>
<circle cx="346.08" cy="939.55" r="4.1" fill="#fff" stroke="#000" stroke-width="1.1"/>
<circle cx="348.53" cy="940.86" r="4.1" fill="#fff" stroke="#000" stroke-width="1.1"/>
<circle cx="350.99" cy="946.49" r="4.1" fill="#fff" stroke="#000" stroke-width="1.1"/>
<circle cx="353.45" cy="948.66" r="4.1" fill="#fff" stroke="#000" stroke-width="1.1"/>
<circle cx="355.91" cy="946.55" r="4.1" fill="#fff" stroke="#000" stroke-width="1.1"/>
<circle cx="358.37" cy="950.81" r="4.1" fill="#fff" stroke="#000" stroke-width="1.1"/>
<circle cx="360.82" cy="943.94" r="4.1" fill="#fff" stroke="#000" stroke-width="1.1"/>
<circle cx="363.28" cy="947.51" r="4.1" fill="#fff" stroke="#000" stroke-width="1.1"/>
<circle cx="365.74" cy="947.06" r="4.1" fill="#fff" stroke="#000" stroke-width="1.1"/>
<circle cx="368.20" cy="948.10" r="4.1" fill="#fff" stroke="#000" stroke-width="1.1"/>
<circle cx="370.66" cy="941.47" r="4.1" fill="#fff" stroke="#000" stroke-width="1.1"/>
<circle cx="373.11" cy="944.34" r="4.1" fill="#fff" stroke="#000" stroke-width="1.1"/>
<circle cx="375.57" cy="945.82" r="4.1" fill="#fff" stroke="#000" stroke-width="1.1"/>
<circle cx="378.03" cy="942.80" r="4.1" fill="#fff" stroke="#000" stroke-width="1.1"/>
<circle cx="380.49" cy="944.27" r="4.1" fill="#fff" stroke="#000" stroke-width="1.1"/>
<circle cx="382.95" cy="942.16" r="4.1" fill="#fff" stroke="#000" stroke-width="1.1"/>
<circle cx="385.40" cy="939.95" r="4.1" fill="#fff" stroke="#000" stroke-width="1.1"/>
<circle cx="387.86" cy="943.80" r="4.1" fill="#fff" stroke="#000" stroke-width="1.1"/>
<circle cx="390.32" cy="941.50" r="4.1" fill="#fff" stroke="#000" stroke-width="1.1"/>
<circle cx="392.78" cy="941.31" r="4.1" fill="#fff" stroke="#000" stroke-width="1.1"/>
<circle cx="395.24" cy="939.32" r="4.1" fill="#fff" stroke="#000" stroke-width="1.1"/>
<circle cx="397.69" cy="940.45" r="4.1" fill="#fff" stroke="#000" stroke-width="1.1"/>
<circle cx="400.15" cy="941.64" r="4.1" fill="#fff" stroke="#000" stroke-width="1.1"/>
<circle cx="402.61" cy="943.12" r="4.1" fill="#fff" stroke="#000" stroke-width="1.1"/>
<circle cx="405.07" cy="940.40" r="4.1" fill="#fff" stroke="#000" stroke-width="1.1"/>
<circle cx="407.53" cy="943.61" r="4.1" fill="#fff" stroke="#000" stroke-width="1.1"/>
<circle cx="409.98" cy="938.91" r="4.1" fill="#fff" stroke="#000" stroke-width="1.1"/>
<circle cx="412.44" cy="940.18" r="4.1" fill="#fff" stroke="#000" stroke-width="1.1"/>
<circle cx="414.90" cy="938.63" r="4.1" fill="#fff" stroke="#000" stroke-width="1.1"/>
<circle cx="417.36" cy="941.06" r="4.1" fill="#fff" stroke="#000" stroke-width="1.1"/>
<circle cx="419.82" cy="941.45" r="4.1" fill="#fff" stroke="#000" stroke-width="1.1"/>
<circle cx="422.27" cy="941.39" r="4.1" fill="#fff" stroke="#000" stroke-width="1.1"/>
<circle cx="424.73" cy="935.78" r="4.1" fill="#fff" stroke="#000" stroke-width="1.1"/>
<circle cx="427.19" cy="938.89" r="4.1" fill="#fff" stroke="#000" stroke-width="1.1"/>
<circle cx="429.65" cy="938.92" r="4.1" fill="#fff" stroke="#000" stroke-width="1.1"/>
<circle cx="432.11" cy="942.98" r="4.1" fill="#fff" stroke="#000" stroke-width="1.1"/>
<circle cx="434.56" cy="938.47" r="4.1" fill="#fff" stroke="#000" stroke-width="1.1"/>
<circle cx="437.02" cy="947.33" r="4.1" fill="#fff" stroke="#000" stroke-width="1.1"/>
<circle cx="439.48" cy="934.77" r="4.1" fill="#fff" stroke="#000" stroke-width="1.1"/>
<circle cx="441.94" cy="938.95" r="4.1" fill="#fff" stroke="#000" stroke-width="1.1"/>
<circle cx="444.40" cy="938.27" r="4.1" fill="#fff" stroke="#000" stroke-width="1.1"/>
<circle cx="446.85" cy="942.04" r="4.1" fill="#fff" stroke="#000" stroke-width="1.1"/>
<circle cx="449.31" cy="941.17" r="4.1" fill="#fff" stroke="#000" stroke-width="1.1"/>
<circle cx="451.77" cy="936.74" r="4.1" fill="#fff" stroke="#000" stroke-width="1.1"/>
<circle cx="454.23" cy="938.86" r="4.1" fill="#fff" stroke="#000" stroke-width="1.1"/>
<circle cx="456.69" cy="937.20" r="4.1" fill="#fff" stroke="#000" stroke-width="1.1"/>
<circle cx="459.14" cy="935.01" r="4.1" fill="#fff" stroke="#000" stroke-width="1.1"/>
<circle cx="461.60" cy="936.59" r="4.1" fill="#fff" stroke="#000" stroke-width="1.1"/>
<circle cx="464.06" cy="943.26" r="4.1" fill="#fff" stroke="#000" stroke-width="1.1"/>
<circle cx="466.52" cy="942.74" r="4.1" fill="#fff" stroke="#000" stroke-width="1.1"/>
<circle cx="468.98" cy="944.98" r="4.1" fill="#fff" stroke="#000" stroke-width="1.1"/>
<circle cx="471.43" cy="946.24" r="4.1" fill="#fff" stroke="#000" stroke-width="1.1"/>
<circle cx="473.89" cy="950.66" r="4.1" fill="#fff" stroke="#000" stroke-width="1.1"/>
<circle cx="476.35" cy="950.49" r="4.1" fill="#fff" stroke="#000" stroke-width="1.1"/>
<circle cx="478.81" cy="946.99" r="4.1" fill="#fff" stroke="#000" stroke-width="1.1"/>
<circle cx="481.27" cy="946.52" r="4.1" fill="#fff" stroke="#000" stroke-width="1.1"/>
<circle cx="483.72" cy="943.53" r="4.1" fill="#fff" stroke="#000" stroke-width="1.1"/>
<circle cx="486.18" cy="945.62" r="4.1" fill="#fff" stroke="#000" stroke-width="1.1"/>
<circle cx="488.64" cy="940.98" r="4.1" fill="#fff" stroke="#000" stroke-width="1.1"/>
<circle cx="491.10" cy="949.21" r="4.1" fill="#fff" stroke="#000" stroke-width="1.1"/>
<circle cx="493.56" cy="947.85" r="4.1" fill="#fff" stroke="#000" stroke-width="1.1"/>
<circle cx="496.01" cy="943.34" r="4.1" fill="#fff" stroke="#000" stroke-width="1.1"/>
<circle cx="498.47" cy="944.47" r="4.1" fill="#fff" stroke="#000" stroke-width="1.1"/>
<circle cx="500.93" cy="946.11" r="4.1" fill="#fff" stroke="#000" stroke-width="1.1"/>
<circle cx="503.39" cy="940.83" r="4.1" fill="#fff" stroke="#000" stroke-width="1.1"/>
<circle cx="505.85" cy="939.31" r="4.1" fill="#fff" stroke="#000" stroke-width="1.1"/>
<circle cx="508.30" cy="938.04" r="4.1" fill="#fff" stroke="#000" stroke-width="1.1"/>
<circle cx="510.76" cy="941.79" r="4.1" fill="#fff" stroke="#000" stroke-width="1.1"/>
<circle cx="513.22" cy="940.08" r="4.1" fill="#fff" stroke="#000" stroke-width="1.1"/>
<circle cx="515.68" cy="938.77" r="4.1" fill="#fff" stroke="#000" stroke-width="1.1"/>
<circle cx="518.14" cy="938.52" r="4.1" fill="#fff" stroke="#000" stroke-width="1.1"/>
<circle cx="520.59" cy="935.65" r="4.1" fill="#fff" stroke="#000" stroke-width="1.1"/>
<circle cx="523.05" cy="939.55" r="4.1" fill="#fff" stroke="#000" stroke-width="1.1"/>
<circle cx="525.51" cy="937.27" r="4.1" fill="#fff" stroke="#000" stroke-width="1.1"/>
<circle cx="527.97" cy="943.96" r="4.1" fill="#fff" stroke="#000" stroke-width="1.1"/>
<circle cx="530.43" cy="936.20" r="4.1" fill="#fff" stroke="#000" stroke-width="1.1"/>
<circle cx="532.88" cy="933.86" r="4.1" fill="#fff" stroke="#000" stroke-width="1.1"/>
<circle cx="535.34" cy="938.16" r="4.1" fill="#fff" stroke="#000" stroke-width="1.1"/>
<circle cx="537.80" cy="935.36" r="4.1" fill="#fff" stroke="#000" stroke-width="1.1"/>
<circle cx="540.26" cy="942.35" r="4.1" fill="#fff" stroke="#000" stroke-width="1.1"/>
<circle cx="542.72" cy="938.85" r="4.1" fill="#fff" stroke="#000" stroke-width="1.1"/>
<circle cx="545.17" cy="941.97" r="4.1" fill="#fff" stroke="#000" stroke-width="1.1"/>
<circle cx="547.63" cy="937.08" r="4.1" fill="#fff" stroke="#000" stroke-width="1.1"/>
<circle cx="550.09" cy="936.52" r="4.1" fill="#fff" stroke="#000" stroke-width="1.1"/>
<circle cx="552.55" cy="941.41" r="4.1" fill="#fff" stroke="#000" stroke-width="1.1"/>
<circle cx="555.01" cy="940.01" r="4.1" fill="#fff" stroke="#000" stroke-width="1.1"/>
<circle cx="557.46" cy="939.30" r="4.1" fill="#fff" stroke="#000" stroke-width="1.1"/>
<path d="M169.10,943.88V948.79M165.50,943.88H172.70M165.50,948.79H172.70M171.56,945.31V950.21M167.96,945.31H175.16M167.96,950.21H175.16M174.02,944.40V950.15M170.42,944.40H177.62M170.42,950.15H177.62M176.47,947.29V952.01M172.87,947.29H180.07M172.87,952.01H180.07M178.93,945.00V950.64M175.33,945.00H182.53M175.33,950.64H182.53M181.39,946.96V951.18M177.79,946.96H184.99M177.79,951.18H184.99M183.85,946.32V949.95M180.25,946.32H187.45M180.25,949.95H187.45M186.31,944.16V948.02M182.71,944.16H189.91M182.71,948.02H189.91M188.76,943.03V948.47M185.16,943.03H192.36M185.16,948.47H192.36M191.22,946.05V949.93M187.62,946.05H194.82M187.62,949.93H194.82M193.68,945.81V951.20M190.08,945.81H197.28M190.08,951.20H197.28M196.14,944.51V950.25M192.54,944.51H199.74M192.54,950.25H199.74M198.60,943.09V947.85M195.00,943.09H202.20M195.00,947.85H202.20M201.05,943.55V947.19M197.45,943.55H204.65M197.45,947.19H204.65M203.51,945.06V950.04M199.91,945.06H207.11M199.91,950.04H207.11M205.97,945.44V949.73M202.37,945.44H209.57M202.37,949.73H209.57M208.43,943.00V948.77M204.83,943.00H212.03M204.83,948.77H212.03M210.89,943.31V947.17M207.29,943.31H214.49M207.29,947.17H214.49M213.34,944.86V948.75M209.74,944.86H216.94M209.74,948.75H216.94M215.80,944.73V949.31M212.20,944.73H219.40M212.20,949.31H219.40M218.26,942.40V947.01M214.66,942.40H221.86M214.66,947.01H221.86M220.72,944.75V948.51M217.12,944.75H224.32M217.12,948.51H224.32M223.79,918.79V933.77M220.19,918.79H227.39M220.19,933.77H227.39M227.48,904.06V921.90M223.88,904.06H231.08M223.88,921.90H231.08M230.24,907.14V923.05M226.64,907.14H233.84M226.64,923.05H233.84M233.01,915.94V925.82M229.41,915.94H236.61M229.41,925.82H236.61M235.47,919.77V929.88M231.87,919.77H239.07M231.87,929.88H239.07M237.92,924.59V932.94M234.32,924.59H241.52M234.32,932.94H241.52M240.38,926.98V934.60M236.78,926.98H243.98M236.78,934.60H243.98M242.84,931.23V936.19M239.24,931.23H246.44M239.24,936.19H246.44M245.30,931.31V937.32M241.70,931.31H248.90M241.70,937.32H248.90M247.76,931.19V940.01M244.16,931.19H251.36M244.16,940.01H251.36M250.21,932.01V940.55M246.61,932.01H253.81M246.61,940.55H253.81M252.67,933.09V941.87M249.07,933.09H256.27M249.07,941.87H256.27M255.13,933.97V941.99M251.53,933.97H258.73M251.53,941.99H258.73M257.59,934.74V941.41M253.99,934.74H261.19M253.99,941.41H261.19M260.05,933.22V941.99M256.45,933.22H263.65M256.45,941.99H263.65M262.50,933.16V939.28M258.90,933.16H266.10M258.90,939.28H266.10M264.96,935.40V942.73M261.36,935.40H268.56M261.36,942.73H268.56M267.42,932.22V939.52M263.82,932.22H271.02M263.82,939.52H271.02M269.88,933.69V940.39M266.28,933.69H273.48M266.28,940.39H273.48M272.34,934.63V940.53M268.74,934.63H275.94M268.74,940.53H275.94M274.79,932.86V939.10M271.19,932.86H278.39M271.19,939.10H278.39M277.25,931.44V938.98M273.65,931.44H280.85M273.65,938.98H280.85M279.71,930.67V936.72M276.11,930.67H283.31M276.11,936.72H283.31M282.17,932.14V938.44M278.57,932.14H285.77M278.57,938.44H285.77M284.63,930.03V936.37M281.03,930.03H288.23M281.03,936.37H288.23M287.08,929.45V935.66M283.48,929.45H290.68M283.48,935.66H290.68M289.54,929.52V937.84M285.94,929.52H293.14M285.94,937.84H293.14M292.00,928.84V935.98M288.40,928.84H295.60M288.40,935.98H295.60M294.46,927.18V932.12M290.86,927.18H298.06M290.86,932.12H298.06M296.92,924.53V932.48M293.32,924.53H300.52M293.32,932.48H300.52M299.37,923.58V930.54M295.77,923.58H302.97M295.77,930.54H302.97M301.83,922.54V930.65M298.23,922.54H305.43M298.23,930.65H305.43M304.29,922.24V929.16M300.69,922.24H307.89M300.69,929.16H307.89M306.75,922.05V928.21M303.15,922.05H310.35M303.15,928.21H310.35M309.21,919.16V927.52M305.61,919.16H312.81M305.61,927.52H312.81M311.66,922.02V927.60M308.06,922.02H315.26M308.06,927.60H315.26M314.12,920.41V926.43M310.52,920.41H317.72M310.52,926.43H317.72M316.58,918.77V925.65M312.98,918.77H320.18M312.98,925.65H320.18M319.04,919.36V927.80M315.44,919.36H322.64M315.44,927.80H322.64M321.50,917.18V922.52M317.90,917.18H325.10M317.90,922.52H325.10M323.95,918.18V924.45M320.35,918.18H327.55M320.35,924.45H327.55M326.41,916.30V923.38M322.81,916.30H330.01M322.81,923.38H330.01M328.87,913.24V920.93M325.27,913.24H332.47M325.27,920.93H332.47M331.33,917.99V923.29M327.73,917.99H334.93M327.73,923.29H334.93M333.79,916.77V924.78M330.19,916.77H337.39M330.19,924.78H337.39M336.24,915.45V922.63M332.64,915.45H339.84M332.64,922.63H339.84M338.70,918.73V925.75M335.10,918.73H342.30M335.10,925.75H342.30M341.16,918.79V925.23M337.56,918.79H344.76M337.56,925.23H344.76M343.62,918.38V924.55M340.02,918.38H347.22M340.02,924.55H347.22M346.08,924.30V932.87M342.48,924.30H349.68M342.48,932.87H349.68M348.53,930.79V939.80M344.93,930.79H352.13M344.93,939.80H352.13M350.99,932.37V937.96M347.39,932.37H354.59M347.39,937.96H354.59M353.45,930.91V936.65M349.85,930.91H357.05M349.85,936.65H357.05M355.91,929.94V937.58M352.31,929.94H359.51M352.31,937.58H359.51M358.37,929.81V937.85M354.77,929.81H361.97M354.77,937.85H361.97M360.82,930.83V939.12M357.22,930.83H364.42M357.22,939.12H364.42M363.28,931.95V938.07M359.68,931.95H366.88M359.68,938.07H366.88M365.74,933.39V939.12M362.14,933.39H369.34M362.14,939.12H369.34M368.20,930.97V936.13M364.60,930.97H371.80M364.60,936.13H371.80M370.66,932.95V939.38M367.06,932.95H374.26M367.06,939.38H374.26M373.11,929.75V936.96M369.51,929.75H376.71M369.51,936.96H376.71M375.57,928.10V936.59M371.97,928.10H379.17M371.97,936.59H379.17M378.03,932.88V937.87M374.43,932.88H381.63M374.43,937.87H381.63M380.49,932.36V937.60M376.89,932.36H384.09M376.89,937.60H384.09M382.95,930.97V938.56M379.35,930.97H386.55M379.35,938.56H386.55M385.40,929.57V937.23M381.80,929.57H389.00M381.80,937.23H389.00M387.86,932.48V937.86M384.26,932.48H391.46M384.26,937.86H391.46M390.32,931.77V937.04M386.72,931.77H393.92M386.72,937.04H393.92M392.78,932.32V937.30M389.18,932.32H396.38M389.18,937.30H396.38M395.24,930.75V938.31M391.64,930.75H398.84M391.64,938.31H398.84M397.69,929.04V936.67M394.09,929.04H401.29M394.09,936.67H401.29M402.61,909.01V922.70M399.01,909.01H406.21M399.01,922.70H406.21M405.68,888.17V907.24M402.08,888.17H409.28M402.08,907.24H409.28M409.37,872.19V886.68M405.77,872.19H412.97M405.77,886.68H412.97M413.06,858.22V878.80M409.46,858.22H416.66M409.46,878.80H416.66M415.51,867.16V882.79M411.91,867.16H419.11M411.91,882.79H419.11M417.97,865.69V880.67M414.37,865.69H421.57M414.37,880.67H421.57M420.43,867.06V888.85M416.83,867.06H424.03M416.83,888.85H424.03M422.89,869.30V892.01M419.29,869.30H426.49M419.29,892.01H426.49M425.35,876.44V894.88M421.75,876.44H428.95M421.75,894.88H428.95M427.80,883.69V901.01M424.20,883.69H431.40M424.20,901.01H431.40M430.26,883.98V904.09M426.66,883.98H433.86M426.66,904.09H433.86M432.72,885.33V898.36M429.12,885.33H436.32M429.12,898.36H436.32M435.18,886.31V901.33M431.58,886.31H438.78M431.58,901.33H438.78M437.64,883.75V905.26M434.04,883.75H441.24M434.04,905.26H441.24M440.09,880.67V902.58M436.49,880.67H443.69M436.49,902.58H443.69M442.55,885.16V897.62M438.95,885.16H446.15M438.95,897.62H446.15M445.01,890.03V902.10M441.41,890.03H448.61M441.41,902.10H448.61M447.47,882.99V902.90M443.87,882.99H451.07M443.87,902.90H451.07M449.93,892.94V909.57M446.33,892.94H453.53M446.33,909.57H453.53M452.38,892.68V912.46M448.78,892.68H455.98M448.78,912.46H455.98M454.84,889.13V907.64M451.24,889.13H458.44M451.24,907.64H458.44M457.30,893.44V909.93M453.70,893.44H460.90M453.70,909.93H460.90M459.76,891.78V910.90M456.16,891.78H463.36M456.16,910.90H463.36M462.22,892.42V910.43M458.62,892.42H465.82M458.62,910.43H465.82M464.67,895.28V907.27M461.07,895.28H468.27M461.07,907.27H468.27M467.13,890.31V906.84M463.53,890.31H470.73M463.53,906.84H470.73M469.59,887.94V908.63M465.99,887.94H473.19M465.99,908.63H473.19M472.05,890.31V909.94M468.45,890.31H475.65M468.45,909.94H475.65M474.51,887.43V905.76M470.91,887.43H478.11M470.91,905.76H478.11M476.96,888.38V906.33M473.36,888.38H480.56M473.36,906.33H480.56M479.42,885.06V904.93M475.82,885.06H483.02M475.82,904.93H483.02M481.88,893.81V908.38M478.28,893.81H485.48M478.28,908.38H485.48M484.34,891.81V907.38M480.74,891.81H487.94M480.74,907.38H487.94M486.80,892.08V909.97M483.20,892.08H490.40M483.20,909.97H490.40M489.25,891.29V911.02M485.65,891.29H492.85M485.65,911.02H492.85M491.71,891.28V906.03M488.11,891.28H495.31M488.11,906.03H495.31M494.17,895.24V908.44M490.57,895.24H497.77M490.57,908.44H497.77M496.63,897.12V911.32M493.03,897.12H500.23M493.03,911.32H500.23M499.09,895.99V911.80M495.49,895.99H502.69M495.49,911.80H502.69M501.54,896.91V909.34M497.94,896.91H505.14M497.94,909.34H505.14M504.00,897.96V915.56M500.40,897.96H507.60M500.40,915.56H507.60M506.46,895.69V915.87M502.86,895.69H510.06M502.86,915.87H510.06M508.92,895.44V910.16M505.32,895.44H512.52M505.32,910.16H512.52M511.38,894.11V914.78M507.78,894.11H514.98M507.78,914.78H514.98M513.22,898.68V914.10M509.62,898.68H516.82M509.62,914.10H516.82M514.57,900.10V915.87M510.97,900.10H518.17M510.97,915.87H518.17M515.92,905.09V923.96M512.32,905.09H519.52M512.32,923.96H519.52M517.28,916.02V931.69M513.68,916.02H520.88M513.68,931.69H520.88M518.63,920.31V933.51M515.03,920.31H522.23M515.03,933.51H522.23M519.98,927.58V941.85M516.38,927.58H523.58M516.38,941.85H523.58M521.33,935.20V946.63M517.73,935.20H524.93M517.73,946.63H524.93M522.68,941.63V953.93M519.08,941.63H526.28M519.08,953.93H526.28M524.04,947.89V956.30M520.44,947.89H527.64M520.44,956.30H527.64M525.39,950.69V957.65M521.79,950.69H528.99M521.79,957.65H528.99M526.74,952.77V962.22M523.14,952.77H530.34M523.14,962.22H530.34M528.09,957.01V965.66M524.49,957.01H531.69M524.49,965.66H531.69M529.44,959.37V967.33M525.84,959.37H533.04M525.84,967.33H533.04M530.79,962.62V968.60M527.19,962.62H534.39M527.19,968.60H534.39M532.15,964.44V973.75M528.55,964.44H535.75M528.55,973.75H535.75M533.50,968.06V973.43M529.90,968.06H537.10M529.90,973.43H537.10M534.85,968.67V977.14M531.25,968.67H538.45M531.25,977.14H538.45M536.20,972.23V977.79M532.60,972.23H539.80M532.60,977.79H539.80M537.55,972.23V977.32M533.95,972.23H541.15M533.95,977.32H541.15M538.91,971.98V979.22M535.31,971.98H542.51M535.31,979.22H542.51M540.26,972.41V979.62M536.66,972.41H543.86M536.66,979.62H543.86M542.72,974.93V981.12M539.12,974.93H546.32M539.12,981.12H546.32M545.17,974.90V981.76M541.57,974.90H548.77M541.57,981.76H548.77M547.63,975.63V979.86M544.03,975.63H551.23M544.03,979.86H551.23M550.09,974.99V981.21M546.49,974.99H553.69M546.49,981.21H553.69M552.55,974.87V980.22M548.95,974.87H556.15M548.95,980.22H556.15M555.01,976.27V980.53M551.41,976.27H558.61M551.41,980.53H558.61M557.46,974.49V979.49M553.86,974.49H561.06M553.86,979.49H561.06M559.92,974.02V977.57M556.32,974.02H563.52M556.32,977.57H563.52" stroke="#000" stroke-width="1.4" fill="none"/>
<circle cx="169.10" cy="946.34" r="4.4" fill="#000" stroke="#000" stroke-width="0.6"/>
<circle cx="171.56" cy="947.76" r="4.4" fill="#000" stroke="#000" stroke-width="0.6"/>
<circle cx="174.02" cy="947.27" r="4.4" fill="#000" stroke="#000" stroke-width="0.6"/>
<circle cx="176.47" cy="949.65" r="4.4" fill="#000" stroke="#000" stroke-width="0.6"/>
<circle cx="178.93" cy="947.82" r="4.4" fill="#000" stroke="#000" stroke-width="0.6"/>
<circle cx="181.39" cy="949.07" r="4.4" fill="#000" stroke="#000" stroke-width="0.6"/>
<circle cx="183.85" cy="948.14" r="4.4" fill="#000" stroke="#000" stroke-width="0.6"/>
<circle cx="186.31" cy="946.09" r="4.4" fill="#000" stroke="#000" stroke-width="0.6"/>
<circle cx="188.76" cy="945.75" r="4.4" fill="#000" stroke="#000" stroke-width="0.6"/>
<circle cx="191.22" cy="947.99" r="4.4" fill="#000" stroke="#000" stroke-width="0.6"/>
<circle cx="193.68" cy="948.50" r="4.4" fill="#000" stroke="#000" stroke-width="0.6"/>
<circle cx="196.14" cy="947.38" r="4.4" fill="#000" stroke="#000" stroke-width="0.6"/>
<circle cx="198.60" cy="945.47" r="4.4" fill="#000" stroke="#000" stroke-width="0.6"/>
<circle cx="201.05" cy="945.37" r="4.4" fill="#000" stroke="#000" stroke-width="0.6"/>
<circle cx="203.51" cy="947.55" r="4.4" fill="#000" stroke="#000" stroke-width="0.6"/>
<circle cx="205.97" cy="947.59" r="4.4" fill="#000" stroke="#000" stroke-width="0.6"/>
<circle cx="208.43" cy="945.89" r="4.4" fill="#000" stroke="#000" stroke-width="0.6"/>
<circle cx="210.89" cy="945.24" r="4.4" fill="#000" stroke="#000" stroke-width="0.6"/>
<circle cx="213.34" cy="946.80" r="4.4" fill="#000" stroke="#000" stroke-width="0.6"/>
<circle cx="215.80" cy="947.02" r="4.4" fill="#000" stroke="#000" stroke-width="0.6"/>
<circle cx="218.26" cy="944.70" r="4.4" fill="#000" stroke="#000" stroke-width="0.6"/>
<circle cx="220.72" cy="946.63" r="4.4" fill="#000" stroke="#000" stroke-width="0.6"/>
<circle cx="223.79" cy="926.28" r="4.4" fill="#000" stroke="#000" stroke-width="0.6"/>
<circle cx="227.48" cy="912.98" r="4.4" fill="#000" stroke="#000" stroke-width="0.6"/>
<circle cx="230.24" cy="915.09" r="4.4" fill="#000" stroke="#000" stroke-width="0.6"/>
<circle cx="233.01" cy="920.88" r="4.4" fill="#000" stroke="#000" stroke-width="0.6"/>
<circle cx="235.47" cy="924.83" r="4.4" fill="#000" stroke="#000" stroke-width="0.6"/>
<circle cx="237.92" cy="928.77" r="4.4" fill="#000" stroke="#000" stroke-width="0.6"/>
<circle cx="240.38" cy="930.79" r="4.4" fill="#000" stroke="#000" stroke-width="0.6"/>
<circle cx="242.84" cy="933.71" r="4.4" fill="#000" stroke="#000" stroke-width="0.6"/>
<circle cx="245.30" cy="934.32" r="4.4" fill="#000" stroke="#000" stroke-width="0.6"/>
<circle cx="247.76" cy="935.60" r="4.4" fill="#000" stroke="#000" stroke-width="0.6"/>
<circle cx="250.21" cy="936.28" r="4.4" fill="#000" stroke="#000" stroke-width="0.6"/>
<circle cx="252.67" cy="937.48" r="4.4" fill="#000" stroke="#000" stroke-width="0.6"/>
<circle cx="255.13" cy="937.98" r="4.4" fill="#000" stroke="#000" stroke-width="0.6"/>
<circle cx="257.59" cy="938.08" r="4.4" fill="#000" stroke="#000" stroke-width="0.6"/>
<circle cx="260.05" cy="937.61" r="4.4" fill="#000" stroke="#000" stroke-width="0.6"/>
<circle cx="262.50" cy="936.22" r="4.4" fill="#000" stroke="#000" stroke-width="0.6"/>
<circle cx="264.96" cy="939.06" r="4.4" fill="#000" stroke="#000" stroke-width="0.6"/>
<circle cx="267.42" cy="935.87" r="4.4" fill="#000" stroke="#000" stroke-width="0.6"/>
<circle cx="269.88" cy="937.04" r="4.4" fill="#000" stroke="#000" stroke-width="0.6"/>
<circle cx="272.34" cy="937.58" r="4.4" fill="#000" stroke="#000" stroke-width="0.6"/>
<circle cx="274.79" cy="935.98" r="4.4" fill="#000" stroke="#000" stroke-width="0.6"/>
<circle cx="277.25" cy="935.21" r="4.4" fill="#000" stroke="#000" stroke-width="0.6"/>
<circle cx="279.71" cy="933.69" r="4.4" fill="#000" stroke="#000" stroke-width="0.6"/>
<circle cx="282.17" cy="935.29" r="4.4" fill="#000" stroke="#000" stroke-width="0.6"/>
<circle cx="284.63" cy="933.20" r="4.4" fill="#000" stroke="#000" stroke-width="0.6"/>
<circle cx="287.08" cy="932.55" r="4.4" fill="#000" stroke="#000" stroke-width="0.6"/>
<circle cx="289.54" cy="933.68" r="4.4" fill="#000" stroke="#000" stroke-width="0.6"/>
<circle cx="292.00" cy="932.41" r="4.4" fill="#000" stroke="#000" stroke-width="0.6"/>
<circle cx="294.46" cy="929.65" r="4.4" fill="#000" stroke="#000" stroke-width="0.6"/>
<circle cx="296.92" cy="928.51" r="4.4" fill="#000" stroke="#000" stroke-width="0.6"/>
<circle cx="299.37" cy="927.06" r="4.4" fill="#000" stroke="#000" stroke-width="0.6"/>
<circle cx="301.83" cy="926.59" r="4.4" fill="#000" stroke="#000" stroke-width="0.6"/>
<circle cx="304.29" cy="925.70" r="4.4" fill="#000" stroke="#000" stroke-width="0.6"/>
<circle cx="306.75" cy="925.13" r="4.4" fill="#000" stroke="#000" stroke-width="0.6"/>
<circle cx="309.21" cy="923.34" r="4.4" fill="#000" stroke="#000" stroke-width="0.6"/>
<circle cx="311.66" cy="924.81" r="4.4" fill="#000" stroke="#000" stroke-width="0.6"/>
<circle cx="314.12" cy="923.42" r="4.4" fill="#000" stroke="#000" stroke-width="0.6"/>
<circle cx="316.58" cy="922.21" r="4.4" fill="#000" stroke="#000" stroke-width="0.6"/>
<circle cx="319.04" cy="923.58" r="4.4" fill="#000" stroke="#000" stroke-width="0.6"/>
<circle cx="321.50" cy="919.85" r="4.4" fill="#000" stroke="#000" stroke-width="0.6"/>
<circle cx="323.95" cy="921.31" r="4.4" fill="#000" stroke="#000" stroke-width="0.6"/>
<circle cx="326.41" cy="919.84" r="4.4" fill="#000" stroke="#000" stroke-width="0.6"/>
<circle cx="328.87" cy="917.09" r="4.4" fill="#000" stroke="#000" stroke-width="0.6"/>
<circle cx="331.33" cy="920.64" r="4.4" fill="#000" stroke="#000" stroke-width="0.6"/>
<circle cx="333.79" cy="920.78" r="4.4" fill="#000" stroke="#000" stroke-width="0.6"/>
<circle cx="336.24" cy="919.04" r="4.4" fill="#000" stroke="#000" stroke-width="0.6"/>
<circle cx="338.70" cy="922.24" r="4.4" fill="#000" stroke="#000" stroke-width="0.6"/>
<circle cx="341.16" cy="922.01" r="4.4" fill="#000" stroke="#000" stroke-width="0.6"/>
<circle cx="343.62" cy="921.47" r="4.4" fill="#000" stroke="#000" stroke-width="0.6"/>
<circle cx="346.08" cy="928.59" r="4.4" fill="#000" stroke="#000" stroke-width="0.6"/>
<circle cx="348.53" cy="935.29" r="4.4" fill="#000" stroke="#000" stroke-width="0.6"/>
<circle cx="350.99" cy="935.16" r="4.4" fill="#000" stroke="#000" stroke-width="0.6"/>
<circle cx="353.45" cy="933.78" r="4.4" fill="#000" stroke="#000" stroke-width="0.6"/>
<circle cx="355.91" cy="933.76" r="4.4" fill="#000" stroke="#000" stroke-width="0.6"/>
<circle cx="358.37" cy="933.83" r="4.4" fill="#000" stroke="#000" stroke-width="0.6"/>
<circle cx="360.82" cy="934.98" r="4.4" fill="#000" stroke="#000" stroke-width="0.6"/>
<circle cx="363.28" cy="935.01" r="4.4" fill="#000" stroke="#000" stroke-width="0.6"/>
<circle cx="365.74" cy="936.26" r="4.4" fill="#000" stroke="#000" stroke-width="0.6"/>
<circle cx="368.20" cy="933.55" r="4.4" fill="#000" stroke="#000" stroke-width="0.6"/>
<circle cx="370.66" cy="936.17" r="4.4" fill="#000" stroke="#000" stroke-width="0.6"/>
<circle cx="373.11" cy="933.35" r="4.4" fill="#000" stroke="#000" stroke-width="0.6"/>
<circle cx="375.57" cy="932.35" r="4.4" fill="#000" stroke="#000" stroke-width="0.6"/>
<circle cx="378.03" cy="935.37" r="4.4" fill="#000" stroke="#000" stroke-width="0.6"/>
<circle cx="380.49" cy="934.98" r="4.4" fill="#000" stroke="#000" stroke-width="0.6"/>
<circle cx="382.95" cy="934.76" r="4.4" fill="#000" stroke="#000" stroke-width="0.6"/>
<circle cx="385.40" cy="933.40" r="4.4" fill="#000" stroke="#000" stroke-width="0.6"/>
<circle cx="387.86" cy="935.17" r="4.4" fill="#000" stroke="#000" stroke-width="0.6"/>
<circle cx="390.32" cy="934.40" r="4.4" fill="#000" stroke="#000" stroke-width="0.6"/>
<circle cx="392.78" cy="934.81" r="4.4" fill="#000" stroke="#000" stroke-width="0.6"/>
<circle cx="395.24" cy="934.53" r="4.4" fill="#000" stroke="#000" stroke-width="0.6"/>
<circle cx="397.69" cy="932.85" r="4.4" fill="#000" stroke="#000" stroke-width="0.6"/>
<circle cx="402.61" cy="915.86" r="4.4" fill="#000" stroke="#000" stroke-width="0.6"/>
<circle cx="405.68" cy="897.71" r="4.4" fill="#000" stroke="#000" stroke-width="0.6"/>
<circle cx="409.37" cy="879.43" r="4.4" fill="#000" stroke="#000" stroke-width="0.6"/>
<circle cx="413.06" cy="868.51" r="4.4" fill="#000" stroke="#000" stroke-width="0.6"/>
<circle cx="415.51" cy="874.98" r="4.4" fill="#000" stroke="#000" stroke-width="0.6"/>
<circle cx="417.97" cy="873.18" r="4.4" fill="#000" stroke="#000" stroke-width="0.6"/>
<circle cx="420.43" cy="877.95" r="4.4" fill="#000" stroke="#000" stroke-width="0.6"/>
<circle cx="422.89" cy="880.66" r="4.4" fill="#000" stroke="#000" stroke-width="0.6"/>
<circle cx="425.35" cy="885.66" r="4.4" fill="#000" stroke="#000" stroke-width="0.6"/>
<circle cx="427.80" cy="892.35" r="4.4" fill="#000" stroke="#000" stroke-width="0.6"/>
<circle cx="430.26" cy="894.03" r="4.4" fill="#000" stroke="#000" stroke-width="0.6"/>
<circle cx="432.72" cy="891.85" r="4.4" fill="#000" stroke="#000" stroke-width="0.6"/>
<circle cx="435.18" cy="893.82" r="4.4" fill="#000" stroke="#000" stroke-width="0.6"/>
<circle cx="437.64" cy="894.50" r="4.4" fill="#000" stroke="#000" stroke-width="0.6"/>
<circle cx="440.09" cy="891.62" r="4.4" fill="#000" stroke="#000" stroke-width="0.6"/>
<circle cx="442.55" cy="891.39" r="4.4" fill="#000" stroke="#000" stroke-width="0.6"/>
<circle cx="445.01" cy="896.06" r="4.4" fill="#000" stroke="#000" stroke-width="0.6"/>
<circle cx="447.47" cy="892.94" r="4.4" fill="#000" stroke="#000" stroke-width="0.6"/>
<circle cx="449.93" cy="901.25" r="4.4" fill="#000" stroke="#000" stroke-width="0.6"/>
<circle cx="452.38" cy="902.57" r="4.4" fill="#000" stroke="#000" stroke-width="0.6"/>
<circle cx="454.84" cy="898.38" r="4.4" fill="#000" stroke="#000" stroke-width="0.6"/>
<circle cx="457.30" cy="901.69" r="4.4" fill="#000" stroke="#000" stroke-width="0.6"/>
<circle cx="459.76" cy="901.34" r="4.4" fill="#000" stroke="#000" stroke-width="0.6"/>
<circle cx="462.22" cy="901.43" r="4.4" fill="#000" stroke="#000" stroke-width="0.6"/>
<circle cx="464.67" cy="901.27" r="4.4" fill="#000" stroke="#000" stroke-width="0.6"/>
<circle cx="467.13" cy="898.57" r="4.4" fill="#000" stroke="#000" stroke-width="0.6"/>
<circle cx="469.59" cy="898.28" r="4.4" fill="#000" stroke="#000" stroke-width="0.6"/>
<circle cx="472.05" cy="900.13" r="4.4" fill="#000" stroke="#000" stroke-width="0.6"/>
<circle cx="474.51" cy="896.60" r="4.4" fill="#000" stroke="#000" stroke-width="0.6"/>
<circle cx="476.96" cy="897.35" r="4.4" fill="#000" stroke="#000" stroke-width="0.6"/>
<circle cx="479.42" cy="895.00" r="4.4" fill="#000" stroke="#000" stroke-width="0.6"/>
<circle cx="481.88" cy="901.10" r="4.4" fill="#000" stroke="#000" stroke-width="0.6"/>
<circle cx="484.34" cy="899.59" r="4.4" fill="#000" stroke="#000" stroke-width="0.6"/>
<circle cx="486.80" cy="901.03" r="4.4" fill="#000" stroke="#000" stroke-width="0.6"/>
<circle cx="489.25" cy="901.15" r="4.4" fill="#000" stroke="#000" stroke-width="0.6"/>
<circle cx="491.71" cy="898.65" r="4.4" fill="#000" stroke="#000" stroke-width="0.6"/>
<circle cx="494.17" cy="901.84" r="4.4" fill="#000" stroke="#000" stroke-width="0.6"/>
<circle cx="496.63" cy="904.22" r="4.4" fill="#000" stroke="#000" stroke-width="0.6"/>
<circle cx="499.09" cy="903.89" r="4.4" fill="#000" stroke="#000" stroke-width="0.6"/>
<circle cx="501.54" cy="903.13" r="4.4" fill="#000" stroke="#000" stroke-width="0.6"/>
<circle cx="504.00" cy="906.76" r="4.4" fill="#000" stroke="#000" stroke-width="0.6"/>
<circle cx="506.46" cy="905.78" r="4.4" fill="#000" stroke="#000" stroke-width="0.6"/>
<circle cx="508.92" cy="902.80" r="4.4" fill="#000" stroke="#000" stroke-width="0.6"/>
<circle cx="511.38" cy="904.44" r="4.4" fill="#000" stroke="#000" stroke-width="0.6"/>
<circle cx="513.22" cy="906.39" r="4.4" fill="#000" stroke="#000" stroke-width="0.6"/>
<circle cx="514.57" cy="907.98" r="4.4" fill="#000" stroke="#000" stroke-width="0.6"/>
<circle cx="515.92" cy="914.53" r="4.4" fill="#000" stroke="#000" stroke-width="0.6"/>
<circle cx="517.28" cy="923.86" r="4.4" fill="#000" stroke="#000" stroke-width="0.6"/>
<circle cx="518.63" cy="926.91" r="4.4" fill="#000" stroke="#000" stroke-width="0.6"/>
<circle cx="519.98" cy="934.71" r="4.4" fill="#000" stroke="#000" stroke-width="0.6"/>
<circle cx="521.33" cy="940.92" r="4.4" fill="#000" stroke="#000" stroke-width="0.6"/>
<circle cx="522.68" cy="947.78" r="4.4" fill="#000" stroke="#000" stroke-width="0.6"/>
<circle cx="524.04" cy="952.10" r="4.4" fill="#000" stroke="#000" stroke-width="0.6"/>
<circle cx="525.39" cy="954.17" r="4.4" fill="#000" stroke="#000" stroke-width="0.6"/>
<circle cx="526.74" cy="957.50" r="4.4" fill="#000" stroke="#000" stroke-width="0.6"/>
<circle cx="528.09" cy="961.34" r="4.4" fill="#000" stroke="#000" stroke-width="0.6"/>
<circle cx="529.44" cy="963.35" r="4.4" fill="#000" stroke="#000" stroke-width="0.6"/>
<circle cx="530.79" cy="965.61" r="4.4" fill="#000" stroke="#000" stroke-width="0.6"/>
<circle cx="532.15" cy="969.10" r="4.4" fill="#000" stroke="#000" stroke-width="0.6"/>
<circle cx="533.50" cy="970.75" r="4.4" fill="#000" stroke="#000" stroke-width="0.6"/>
<circle cx="534.85" cy="972.91" r="4.4" fill="#000" stroke="#000" stroke-width="0.6"/>
<circle cx="536.20" cy="975.01" r="4.4" fill="#000" stroke="#000" stroke-width="0.6"/>
<circle cx="537.55" cy="974.78" r="4.4" fill="#000" stroke="#000" stroke-width="0.6"/>
<circle cx="538.91" cy="975.60" r="4.4" fill="#000" stroke="#000" stroke-width="0.6"/>
<circle cx="540.26" cy="976.02" r="4.4" fill="#000" stroke="#000" stroke-width="0.6"/>
<circle cx="542.72" cy="978.02" r="4.4" fill="#000" stroke="#000" stroke-width="0.6"/>
<circle cx="545.17" cy="978.33" r="4.4" fill="#000" stroke="#000" stroke-width="0.6"/>
<circle cx="547.63" cy="977.74" r="4.4" fill="#000" stroke="#000" stroke-width="0.6"/>
<circle cx="550.09" cy="978.10" r="4.4" fill="#000" stroke="#000" stroke-width="0.6"/>
<circle cx="552.55" cy="977.55" r="4.4" fill="#000" stroke="#000" stroke-width="0.6"/>
<circle cx="555.01" cy="978.40" r="4.4" fill="#000" stroke="#000" stroke-width="0.6"/>
<circle cx="557.46" cy="976.99" r="4.4" fill="#000" stroke="#000" stroke-width="0.6"/>
<circle cx="559.92" cy="975.80" r="4.4" fill="#000" stroke="#000" stroke-width="0.6"/>
</svg>
</body></html>
